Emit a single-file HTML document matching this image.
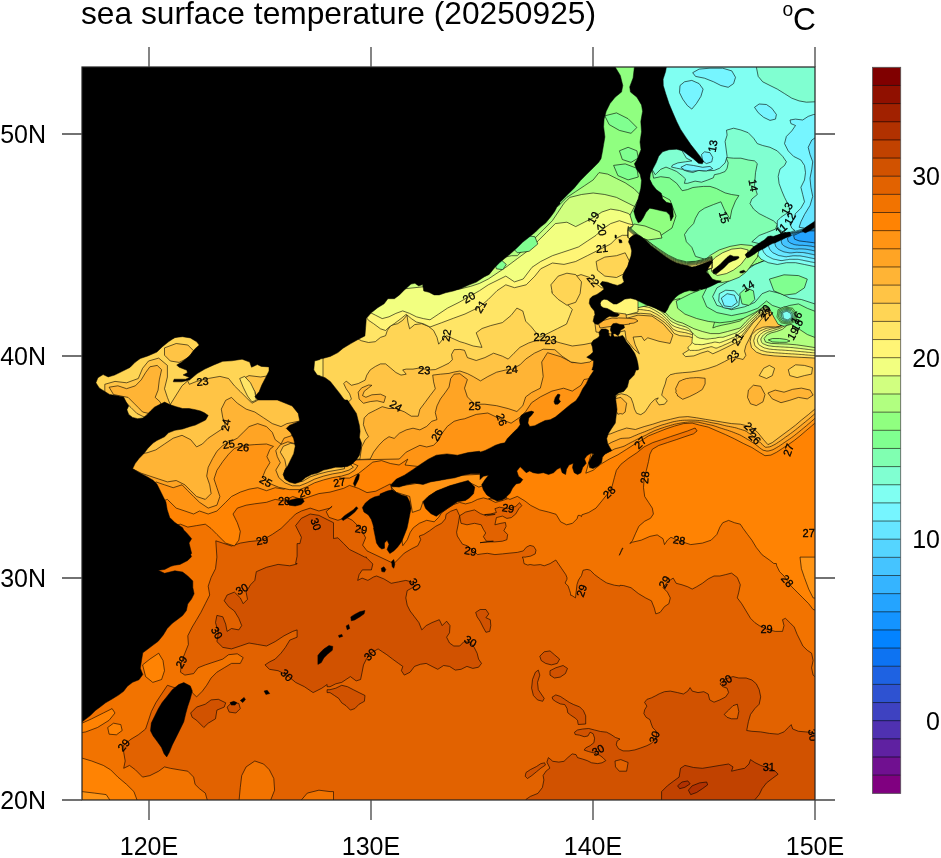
<!DOCTYPE html>
<html lang="en">
<head>
<meta charset="utf-8">
<title>sea surface temperature (20250925)</title>
<style>
html,body{margin:0;padding:0;background:#fff;}
body{width:941px;height:858px;overflow:hidden;}
svg{display:block;}
text{font-family:"Liberation Sans","Helvetica","Arial",sans-serif;fill:#000;}
.c{stroke:#000;stroke-width:0.6;stroke-linejoin:round;fill-rule:evenodd;}
.l{fill:#000;stroke:#000;stroke-width:0.5;stroke-linejoin:round;fill-rule:evenodd;}
.n{font-size:11px;text-anchor:middle;stroke:#000;stroke-width:0.3px;}
.t{stroke:#444;stroke-width:1.3;fill:none;}
</style>
</head>
<body>
<svg width="941" height="858" viewBox="0 0 941 858">
<defs><clipPath id="f"><rect x="82" y="67" width="733" height="733"/></clipPath></defs>
<rect width="941" height="858" fill="#fff"/>
<text x="81" y="24" font-size="31.7" textLength="515" lengthAdjust="spacingAndGlyphs">sea surface temperature (20250925)</text>
<text x="782.5" y="15.8" font-size="19.3">o</text>
<text x="793" y="30.4" font-size="31.7">C</text>
<g clip-path="url(#f)">
<rect x="82" y="67" width="733" height="733" fill="#e26200"/>
<path class="c" fill="#d15200" d="M297.1 543.6L297.1 556.2L295.6 563.5L297.1 563.5L297.1 564L289.8 565.8L278.1 564.4L266.5 567.3L256.3 571.7L254.8 580.4L250.5 584.8L246.1 592.1L247.5 599.3L243.2 603.7L240.3 597.9L234.4 592.1L227.1 595L224.2 600.8L228.6 606.6L234.4 611L238.8 618.3L241.7 625.6L238.8 629.9L231.5 628.5L227.1 631.4L225.7 624.1L222.8 616.8L216.9 615.4L215.5 622.6L218.4 632.8L216.9 641.6L222.8 647.4L231.5 648.9L240.3 646L249 643L257.7 644.5L266.5 646L275.2 641.6L284 635.8L292.7 631.4L297.1 629.9L297.1 637.2L289.8 640.1L285.4 647.4L281 653.2L275.2 659.1L269.4 662L265 664.9L269.4 669.3L278.1 670.7L286.9 675.1L295.6 682.4L304.4 686.7L313.1 692.6L321.8 688.2L327.1 684.5L327.1 686.7L330 686.7L335.8 683.8L341.7 682.4L346 679.5L350.4 676.6L356.2 680.9L360.6 679.5L362.1 672.2L363.5 664.9L366.4 659.1L370.8 653.2L378.1 648.9L382.4 651.8L386.8 654.7L392.6 659.1L398.5 663.4L402.8 666.4L401.4 670.7L404.3 675.1L410.1 672.2L414.5 666.4L420.3 664.3L426.2 663.4L432 666.4L437.8 669.3L443.6 665.5L449.5 666.4L455.3 670.1L461.1 669.3L466.9 666.4L472.8 668.4L478.6 667.2L481.5 663.4L478.6 659.1L477.1 653.2L474.2 647.4L469.9 642.2L464 641.6L459.7 646L453.8 646L449.5 643L446.6 637.2L449.5 632.8L450 625.6L446.6 621.2L442.2 625.6L439.3 619.7L432 622.6L426.2 625.6L421.8 629.9L418.9 622.6L414.5 616.8L410.1 611L407.2 605.2L405.8 597.9L407.2 590.6L415.1 586.2L411.6 581.9L405.8 580.4L398.5 581.9L391.2 583.3L383.9 578.9L376.6 576L373.7 576.9L367.9 580.4L362.1 578.1L357.7 580.4L359.1 574.6L362.3 569.9L371.4 569.9L372.8 564L367 558.2L366.4 557.9L366.4 557.1L364.8 557.1L358.3 553.8L349.5 549.5L343.7 543.6L337.9 537.8L333.5 538.5L333.5 522.7L327.7 519.8L318.9 515.4L310.2 514L301.4 518.3L295.6 525.6L300 534.4L300 534.9L300.3 534.9L301.4 537.3L299.9 543.6ZM341.7 702.8L346 705.7L350.4 710.1L354.8 708.6L359.1 704.2L364.4 701.3L365 695.5L359.1 692.6L353.3 689.7L347.5 686.7L341.7 685.3L335.8 688.2L330 689.7L327.1 689.7L327.1 692.6L330 692.6L334.4 695.5L338.7 698.4ZM231.5 702.8L227.1 707.1L229.2 712.1L235.9 713L240.3 708.6L238.8 703.4ZM215.5 718.8L216.9 710.1L224.2 707.1L225.7 702.8L218.4 699.3L211.1 699.9L205.3 704.2L196.6 707.1L190.7 713L192.2 717.3L196.6 720.3L203.8 727.5L208.2 723.2ZM489.7 631.4L490.8 625.6L490.3 619.7L485.9 617.7L488.8 613.9L485.9 609.5L480.1 609.5L475.7 612.4L477.1 616.8L480.1 621.2L483 627L485.9 632.3ZM559.6 659.1L554.4 654.7L550 650.9L544.2 651.8L539.8 656.2L541.2 660.5L545.6 663.4L551.4 664.9L557.3 663.4ZM567.5 668.4L563.1 665.5L555.8 667.8L550 670.7L550 675.1L554.4 678L560.2 677.1L565.4 673.6ZM544.2 698.4L541.2 694L538.3 689.7L537.5 682.4L539.8 675.1L538.3 670.1L535.4 672.2L532.5 679.5L531.6 688.2L533.4 695.5L537.5 699.9L542.7 701.3ZM567 708.4L567.8 712.8L570.7 715.1L575.2 718.1L577.5 720.3L578.2 724.5L585.7 724L585.7 715.8L583.4 710.6L579.7 706.9L573.7 704.6L569.3 702.4L564.8 699.4L560.3 696.4L555.8 694.9L552.1 697.2L552.8 699.4L555.8 701.6L560.3 703.9L564.8 704.6ZM805.8 731.9L798.5 731.3L792.7 729L791.2 724.6L788.3 727.5L784 731.9L778.1 734.2L769.4 733.4L760.7 731.9L751.9 731.3L746.7 730.5L748.4 721.7L750.5 714.4L754.8 708.6L759.2 704.2L760.7 696.9L759.2 689.7L756.3 683.8L751.9 680L746.1 678L738.8 678L733 676.6L725.7 678.9L719.9 683.8L722.8 686.7L727.1 688.2L728.6 692.6L725.7 696.9L719.9 699.9L714 702.2L709.7 699.9L708.2 694L703.8 691.7L698 692.6L692.2 691.1L690.1 687.6L687.8 691.1L683.4 694L677.6 692.6L670.3 691.1L664.5 691.7L660.2 693.4L660 693.4L659.5 693.7L658.7 694L658.7 694.1L655.8 695.7L651.3 697.9L646.9 699.4L644.6 702.4L646.9 706.1L644.6 709.9L643.9 713.6L646.1 717.3L649.9 719.6L651.3 724L652.8 727.8L655.8 730.7L656.6 735.2L655.1 739.7L651.3 743.4L646.9 745.7L640.9 747.9L634.9 749.9L629 750.9L623 750.9L618.5 748.7L616.3 744.9L617 741.2L620 739L615.5 737.5L611 734.5L606.6 732.2L600.6 731.5L594.6 730L588.7 728.5L582.7 729L577.5 730L574.5 732.2L575.2 734.5L579.7 735.2L584.2 736.7L587.9 736L590.1 732.2L593.1 733.7L594.6 738.2L593.9 742.7L590.1 745.7L585.7 747.9L584.2 750.1L588.7 751.6L594.6 753.1L599.9 755.4L602.8 757.6L605.8 760.6L602.1 762.8L597.6 763.6L591.6 762.8L587.2 760.6L582.7 759.1L577.5 757.6L576 754.6L572.2 753.9L567.8 757.6L564 761.3L558.8 762.1L552.8 761.3L548.4 757.6L546.9 762.1L549.9 768.1L546.1 771L543.1 775.5L543.9 780L542.4 787.5L537.9 793.4L530.4 796.4L526 799.4L526 803.9L658.7 803.9L658.7 807.7L824.8 807.7L824.8 733.4L814.8 733.4L811.6 732.5ZM540.9 768.1L545.4 765.1L544.6 762.8L540.9 763.6L536.4 766.6L530.4 769.6L526 772.5L525.2 776.3L527.5 778.5L531.9 775.5L536.4 771.8Z"/>
<path class="c" fill="#c14200" d="M754.8 807.7L754.8 799.8L759.2 794.6L762.1 788.7L766.5 782.9L772.3 778.5L778.1 774.2L775.2 771.2L768.8 768.3L760.7 765.4L754.8 762.5L750.5 759.6L749 764L744.6 768.3L737.3 769.8L731.5 771.2L733 766.9L728.6 764L719.9 765.4L711.1 766.9L702.4 768.3L693.6 767.5L684.9 765.4L680.5 768.3L679.1 777.1L673.2 781.4L667.4 785.8L661.6 791.6L661.6 807.7Z"/>
<path class="c" fill="#b13100" d="M684.9 787.3L690.1 783.8L687.8 780.9L682 782L677.6 785.8L679.7 788.7ZM696.6 792.5L702.4 788.7L707.6 784.9L706.7 782L699.5 782.9L692.2 785.8L688.4 790.2L690.7 794.6Z"/>
<path class="c" fill="#f27300" d="M231.5 546L240.3 543.1L249 541.6L262.1 540.2L272.3 534.4L281 528.5L289.8 519.8L295.6 514L301.4 511L310.2 508.1L318.9 511L330 508.1L332.1 506.3L326.2 511.6L329.1 517.4L337.9 520.3L346.6 517.4L352.4 520.3L361.2 529.1L365.6 537.8L362.6 545.1L367 550.9L393.9 563.6L398.4 559.1L404.3 553.1L411.8 548.7L417.8 545.7L420.7 539.7L419.3 536L423.7 534.5L429.7 530.7L435.7 526.3L441.6 523.3L445.4 518.8L446.1 514.3L450.6 511.3L456.6 509.1L459.6 515.8L458.1 524.8L456.6 532.2L457.3 536L459.6 539.7L462.5 544.2L467 545.7L473 550.1L477.5 554.6L481.9 553.9L487.3 553.3L494.9 554.6L502.4 553.9L509.9 553.1L517.3 552.4L523.3 550.9L526.3 547.2L530 545.4L533.7 546.4L536 550.1L535.2 553.9L530.7 556.1L526.3 556.9L526 557.1L522.3 557.1L523.3 559.1L523.3 559.1L524 563.6L527.8 565.1L530.1 564.5L534 565.2L540.5 564.6L544.2 565.8L550.1 563.6L555.8 560L561.4 568.2L565.9 574.8L567 577.8L566.9 579.4L565.1 583L568.1 586L569.6 590.4L570.5 593.3L570.7 595.3L571.9 595.5L575.5 597.9L577 584.5L578.5 580L581.5 575.5L583 570.3L586.9 569.4L589.2 569.9L590.4 570.4L594.6 574.6L600.4 578.9L606.2 582.7L606.7 582.8L606.9 583L614.3 585.2L620 586L620.1 585.3L623.7 585.6L631 587.7L638.3 593.5L645.6 597.9L651.4 600.8L654.3 608.1L655.8 613.9L660.1 612.4L664.5 606.6L668.9 603.7L670.3 597.9L667.4 592.1L663 587.7L667.4 581.9L673.2 578.1L676.2 583.3L682 584.8L687.8 586.8L692.2 589.1L696.6 586.8L702.4 583.3L708.2 578.9L714 576L719.9 576L725.7 574.6L731.5 573.1L737.3 577.5L740.3 584.8L738.8 592.1L737.3 597.9L741.7 603.7L746.1 611L750.5 618.3L754.8 622.6L759.2 625.6L766.5 629.1L775.2 631.4L782.5 631.4L784 625.6L782.5 619.7L785.4 618.3L789.8 622.6L794.2 627L797.1 634.3L800 640.1L802.9 646L807.3 650.3L811.6 653.2L813.1 660.5L811.6 667.8L813.1 675.1L814.8 676.6L824.8 676.6L824.8 563.5L833.5 563.5L833.5 307.1L628.6 307.1L650 55L60 55L60 540L77.1 541.9L77.1 803.3L208.2 803.3L205.3 793.1L199.5 788.7L195.1 784.4L193.6 777.1L187.8 771.2L179.1 769.8L170.3 768.3L164.5 766.9L158.7 771.2L149.9 775.6L142.6 777.1L135.4 769.8L129.5 765.4L123.7 768.3L125.2 761L123.7 752.3L123.7 745L131 739.2L138.3 734.8L145.6 729L148.5 720.3L151.4 711.5L155.8 702.8L161.6 694L167.4 685.3L176.2 688.2L187.8 685.3L192.2 692.6L196.6 696.9L202.4 691.1L206.7 685.3L211.1 678L216.9 672.2L224.2 667.8L231.5 663.4L240.3 663.4L243.2 657.6L237.3 653.8L228.6 654.7L222.8 659.1L214 662L205.3 664.9L198 667.8L193.6 673.6L184.9 675.1L180.5 672.2L181.4 662L184.9 653.2L188.4 644.5L187.8 635.8L192.2 627L196.6 619.7L200.9 612.4L205.3 603.7L209.7 595L208.2 586.2L211.1 577.5L215.5 568.7L216.9 557.1L215.8 540.8L222.8 543.1ZM269.4 769.8L263.6 764L254.8 761L246.1 766.9L241.7 775.6L240.3 787.3L238.8 803.3L269.4 803.3L274.6 790.2L273.8 778.5ZM318.9 790.2L307.3 793.1L298.5 803.3L333.5 803.3L333.5 791.6L330 791.6Z"/>
<path class="c" fill="#ff8303" d="M211.1 528.5L216.9 534.4L225.7 543.1L234.4 546L238.8 540.2L240.3 531.4L237.3 522.7L233 514L237.3 508.1L246.1 505.2L254.8 503.8L266.5 502.3L275.2 499.4L284 500.9L292.7 496.5L301.4 499.4L310.2 496.5L318.9 493.6L330 492.1L330 492.1L343.7 488.3L349.5 485.4L358.3 488.3L367 492.6L375.8 491.2L384.5 486.8L390.3 483.9L396.2 505.8L402.8 545.7L407.3 539.7L410.3 532.2L413.3 527.8L419.3 523.3L426.7 520.3L434.2 521.8L438.7 517.3L441.6 512.8L447.6 508.4L453.6 504.6L459.6 502.4L465.5 503.9L471.5 502.4L477.5 499.4L483.4 497.9L487.7 499L491.9 497.9L497.9 494.9L503.9 496.4L507.2 498.1L488.7 499.2L489.4 499.4L495.4 502.4L501.3 500.9L508.1 498.6L509.9 499.4L517.3 496.4L524.8 500.9L530.7 505.4L539.7 509.9L548.7 512.1L556.1 514.3L560.6 521.8L566.6 524.8L572.5 523.3L577 518.8L578.1 515.4L580 515.4L581.5 516.6L581.9 514.8L588.7 512.5L596 508.1L601.9 500.9L607.7 493.6L612.1 486.3L614.4 477.5L616.4 470.3L620.8 464.4L628.1 458.6L636.8 452.8L644.1 446.9L652.8 442.6L661.6 439.7L670.3 436.7L679.1 433.8L687.8 430.9L695.1 428L697.1 430.9L693.6 433.8L684.9 436.7L676.2 439.7L667.4 442.6L658.7 445.5L652.3 449.3L649.9 454.2L648.5 461.5L646.4 470.3L644.1 479L643.5 487.7L644.7 496.5L648.5 502.3L652.3 508.1L653.4 514L650.5 518.3L644.7 521.2L638.9 526.2L635.4 533.8L632.4 540.8L629.9 543.5L632.4 542.2L641.2 540.2L649.9 536.4L657.2 534.9L663 538.7L664.5 544.6L667.4 540.2L670.9 537.3L679.1 540.8L690.7 544.6L702.4 543.1L711.1 540.2L716.9 534.4L719.9 527.1L722.8 522.7L728.6 520.4L734.4 522.7L740.3 524.2L743.2 528.5L747.5 534.4L751.9 540.2L756.3 547.5L762.1 554.8L769.4 560L773.8 563.5L776.3 563.5L776.7 565.8L779.6 571.7L784 576L791.2 586.2L797.1 592.1L802.9 597.9L808.7 603.7L813.1 609.5L824.8 612.4L824.8 563.5L833.5 563.5L833.5 307.1L628.6 307.1L650 55L60 55L60 520L150 530L180.5 524.2L187.8 527.1L196.6 525.6L205.3 524.2ZM622.2 548.3L619.3 555.3L623 548ZM164.5 670.7L163 660.5L158.7 653.2L149.9 659.1L142.6 664.9L145.6 676.6L152.8 682.4L161.6 679.5ZM109.1 720.3L115 713L112.1 708.6L103.3 713L91.7 718.8L82 723.2L77.1 723.2L77.1 733.4L85.8 731.9L97.5 727.5ZM120.8 724.6L113.5 723.2L107.7 727.5L109.1 734.2L116.4 734.8L122.2 730.5ZM126.6 784.4L117.9 777.1L110.6 769.8L103.3 765.4L91.7 761L82 758.1L77.1 758.1L77.1 803.3L138.3 803.3L133.9 791.6Z"/>
<path class="c" fill="#ff9414" d="M349.5 478.1L358.3 473.7L365.6 467.9L372.8 462.1L381.6 460.6L390.3 463.5L399.1 465L407.8 459.1L405 465L450 470L500 460L530 450L560 440L590 400L609.1 356.5L609.1 368.3L597.5 412L594.6 441.1L585.8 473.2L593.1 470.3L600.4 464.4L609.1 459.2L617.9 454.8L626.6 449.3L633.9 444.6L640.3 441.1L648.5 435.9L657.2 432.4L666 428.9L674.7 426L683.4 423.6L692.2 423.1L699.5 425.1L708.2 427.1L716.9 430.9L725.7 434.7L734.4 438.8L743.2 443.4L751.9 447.5L759.2 452.2L765 455.7L770.9 455.1L776.7 452.2L782.5 448.4L788.3 444.6L794.2 440.5L800 435.9L805.8 430.9L811.6 426L814.8 423.1L821.8 417.8L833.5 397.4L833.5 307.1L609.1 307.1L609.1 347.1L600 338L597 322L606 300L615 292L626 284L630 272L636 240L641 222L650 150L650 55L300 55L300 300L301 304.2L74.2 304.2L74.2 514L123.7 514L167.4 499.4L176.2 508.1L184.9 511L193.6 514L199.5 511L208.2 514L216.9 511L225.7 502.3L231.5 496.5L240.3 492.1L249 489.2L257.7 487.7L266.5 490.7L275.2 487.7L284 489.2L289.8 484.8L301.4 461.5L313.1 397.4L313.1 352.4L320 380L330 440L329.1 459.1L332.1 470.8L340.8 478.1ZM412.4 512.4L420.3 509.7L423 501.7L428.3 496.4L436.3 491.6L449.6 486.3L468.2 481.8L478.8 487.1L492.1 483.1L489.4 473.8L462.8 475.2L436.3 480.5L409.7 484.5L391.1 487.1L396.4 492.4L409.7 496.4ZM813.1 597.9L824.8 599.3L824.8 557.1L800 557.1L801.4 568.7L804.4 577.5L808.7 589.1ZM94.6 793.1L82 791.6L77.1 791.6L77.1 803.3L112.1 803.3L106.2 794.6Z"/>
<path class="c" fill="#ffa424" d="M399.3 459L406.2 452.1L413 448.7L419.9 445.3L426.7 447L433.6 445.3L438.7 440.1L442.1 433.3L447.3 426.4L454.1 421.3L459.9 419.6L464.5 418.8L476.2 414.4L487.8 413L501.8 419.7L511.1 423.2L519.9 417.3L525.7 411.5L531.5 402.8L540.3 396.9L551.9 391.1L563.6 388.2L572.3 391.1L581 385.3L584 379.5L601.4 376.6L609.1 357.2L609.1 368.3L597.5 412L594.6 441.1L591.7 460.5L593.7 459.9L595.8 459.2L597.9 458.5L599.8 457.5L601.6 456.3L603.4 455.1L605.2 453.9L607.1 452.8L609 451.8L611 450.9L612.9 449.9L614.8 448.9L616.9 448.3L618.9 447.8L620.9 447.2L622.9 446.6L624.9 445.8L626.8 444.7L628.7 443.7L630.6 442.7L632.6 441.7L634.5 440.7L636.4 439.7L638.3 438.7L640.3 437.8L642.3 436.8L644.2 435.9L646.2 435L648.1 433.9L650 432.9L652 432L653.9 431L655.9 430.2L658 429.5L660 428.7L662.1 428L664.2 427.3L666.2 426.6L668.3 426L670.4 425.4L672.5 424.8L674.6 424.2L676.7 423.8L678.8 423.4L680.9 423L683 422.7L685.2 422.4L687.3 422.2L689.4 421.9L691.6 421.9L693.8 421.9L695.9 422L698.1 422.1L700.2 422.6L702.4 423.1L704.5 423.6L706.6 424.1L708.8 424.6L710.9 425L713 425.5L715.1 426.2L717.2 426.9L719.2 427.6L721.3 428.3L723.3 428.9L725.4 429.6L727.5 430.2L729.5 430.9L731.6 431.6L733.6 432.4L735.6 433.2L737.7 434L739.7 434.8L741.6 435.8L743.5 436.9L745.3 438L747.2 439.2L749.1 440.2L750.9 441.4L752.7 442.6L754.5 443.7L756.2 445L757.9 446.3L759.6 447.7L761.3 449L763.1 450.2L765 450.6L766.9 451.1L768.9 450.9L771 450.3L773 449.7L774.9 448.6L776.8 447.5L778.7 446.4L780.5 445.2L782.3 444L784.1 442.7L785.9 441.5L787.7 440.3L789.5 439.1L791.3 437.8L793.1 436.5L794.8 435.2L796.5 433.8L798.2 432.5L799.9 431.1L801.6 429.7L803.3 428.3L805 426.9L806.7 425.5L808.3 424.1L810 422.7L811.7 421.2L813.3 419.8L814.9 418.3L816.7 417L818.4 415.6L820.1 414.3L821.8 413L833.5 397.4L833.5 307.1L609.1 307.1L609.1 347.1L600 338L597 322L606 300L615 292L626 284L630 272L636 240L641 222L650 150L650 55L300 55L300 300L301 304.2L74.2 304.2L74.2 514L123.7 514L155.8 481.9L164.5 484.8L173.2 487.7L182 484.8L187.8 490.7L193.6 496.5L199.5 502.3L208.2 508.1L216.9 505.2L219.9 496.5L216.9 487.7L214 479L216.9 470.3L222.8 461.5L228.6 454.2L234.4 448.4L243.2 445.5L254.8 444.6L266.5 444L273.5 446.4L269.9 449.3L266.9 456.7L269.9 462.7L265.4 470.1L262.4 477.6L269.9 483.6L278.8 487.3L289.3 489.6L299.7 489.6L307.2 486.6L314.6 482.8L323.6 479.9L332.5 477.6L341.5 476.1L349 473.9L354.9 470.1L357.9 465.7L344.5 459.7L314.6 459.7L303.8 448.8L313.1 397.4L313.1 352.4L320 380L340 430L350 460Z"/>
<path class="c" fill="#ffb435" d="M370.2 459L373.6 452.1L378.8 445.3L383.9 440.1L389 436.7L394.2 438.4L399.3 433.3L406.2 429.9L413 428.2L419.9 429.9L426.7 426.4L431.8 421.3L437 419.6L435.3 412.7L437 405.9L440.4 399L445.5 392.2L449 387.1L450.7 378.5L454.1 374.2L459.9 373.7L467.4 379.5L464.5 388.2L467.4 396.9L474.7 404.2L484.9 404.2L496.6 405.7L508.2 408.6L516.9 411.5L522.8 405.7L525.7 396.9L531.5 392.6L540.3 388.2L543.2 376.6L541.7 362L547.5 352.7L560.7 356.7L572.3 362.6L584 362.6L592.7 356.7L604.4 356.2L609.1 352.3L609.1 368.3L597.5 412L594.6 441.1L597.5 447.9L599.5 447.4L601.6 446.8L603.6 446.3L605.6 445.5L607.4 444.6L609.3 443.6L611.1 442.6L613 441.7L615 440.9L616.9 440.1L618.9 439.2L620.8 438.5L622.8 438.3L624.9 438.2L626.9 438.1L628.9 438L630.9 437.4L632.8 436.5L634.7 435.7L636.7 434.9L638.6 434L640.6 433.3L642.5 432.5L644.5 431.8L646.4 431L648.4 430.2L650.4 429.4L652.3 428.7L654.2 427.8L656.2 427L658.2 426.3L660.1 425.6L662.1 424.9L664.2 424.4L666.2 423.8L668.2 423.2L670.3 422.6L672.3 422L674.3 421.5L676.4 421.2L678.5 420.8L680.5 420.5L682.6 420.3L684.7 420.2L686.8 420.2L688.9 420.1L690.9 420.1L693 420.2L695.1 420.2L697.2 420.4L699.3 420.6L701.4 420.7L703.5 421L705.6 421.4L707.6 421.8L709.7 422.3L711.8 422.7L713.9 423.1L716 423.5L718 423.8L720.1 424.4L722.1 424.9L724.2 425.4L726.2 425.9L728.3 426.3L730.3 426.7L732.4 427.1L734.4 427.5L736.5 428L738.5 428.7L740.5 429.3L742.5 429.9L744.5 430.5L746.4 431.4L748.1 432.7L749.9 433.9L751.6 435.1L753.3 436.3L754.9 437.6L756.4 439L758 440.4L759.5 441.8L761 443.3L762.5 444.7L764.1 446.2L765.7 447.3L767.6 447.1L769.4 446.9L771.3 446.2L773.1 445.3L775 444.4L776.7 443.3L778.5 442.1L780.3 440.9L782 439.7L783.7 438.5L785.4 437.2L787.2 436L788.9 434.8L790.6 433.5L792.3 432.3L794 431L795.7 429.7L797.3 428.4L799 427L800.6 425.7L802.3 424.3L803.9 423L805.5 421.7L807.2 420.3L808.8 419L810.4 417.6L812 416.2L813.6 414.8L815.2 413.4L816.9 412.1L818.5 410.8L820.2 409.4L821.8 408.1L833.5 397.4L833.5 307.1L609.1 307.1L609.1 347.1L600 338L597 322L606 300L615 292L626 284L630 272L636 240L641 222L650 150L650 55L300 55L300 300L301 304.2L74.2 304.2L74.2 514L123.7 484.8L132.4 468.8L141.2 473.2L149.9 476.1L158.7 479L167.4 481.9L176.2 480.5L184.9 484.8L190.7 490.7L196.6 496.5L205.3 499.4L211.1 493.6L209.7 484.8L206.7 476.1L208.2 467.3L212.6 458.6L216.9 451.3L222.8 445.5L228.6 442.6L237.3 438.2L243.2 432.4L249 426.6L257.7 423.6L266.5 426.6L272.3 432.4L275.2 439.7L281 444L284 438.2L301.4 432.4L313.1 397.4L313.1 352.4L320 380L340 430L350 460ZM275.8 450.7L277.3 456.7L280.3 462.7L275.8 470.1L278.8 477.6L284.8 482.8L292.2 485.8L299.7 485.8L307.2 482.8L314.6 479.1L323.6 476.1L332.5 473.9L341.5 472.4L349 470.1L353.4 467.2L344.5 459.7L314.6 459.7L299.7 444.8L287.8 441.8L280.3 444.8Z"/>
<path class="c" fill="#ffc445" d="M359.9 459L361.6 447L365.1 440.1L368.5 436.7L365.9 431.6L363.4 424.7L364.2 417.9L368.5 413.6L375.3 410.2L382.2 406.7L389 408.5L395.9 408.5L404.5 411.9L411.3 416.2L418.2 416.2L419.9 409.3L425 402.5L430.1 395.6L435.3 388.8L433.6 381.9L432.7 375.1L440.4 374.2L449 373.4L454.1 372L459.9 371L467.4 373.6L473.2 376.6L480.5 380.9L487.8 376.6L496.6 372.2L505.3 370.1L511.7 369.3L519.9 364.9L525.7 359.1L534.4 353.2L543.2 349.2L554.8 349.7L562.1 356.2L570.9 362L581 363.4L589.8 362L595.6 357.6L604.4 356.2L609.1 352.3L609.1 368.3L597.5 412L594.6 441.1L603.3 435.3L610.6 433.8L617.9 430.9L626.6 428L635.4 429.5L644.1 426.6L652.8 424.2L661.6 421.3L670.3 419.3L679.1 417.2L687.8 416.6L696.6 417.8L705.3 419.3L714 420.7L722.8 422.2L731.5 423.6L740.3 424.2L750.5 426.6L757.7 432.4L763.6 439.7L767.9 444.6L772.3 442.6L778.1 438.2L784 433.8L789.8 429.5L795.6 425.1L801.4 420.1L808.7 414.3L814.8 409.1L821.8 403.2L833.5 397.4L833.5 307.1L609.1 307.1L609.1 347.1L600 338L597 322L606 300L615 292L626 284L630 272L636 240L641 222L650 150L650 55L300 55L300 300L301 304.2L74.2 304.2L74.2 455.7L123.7 455.7L147 452.8L155.8 449.9L164.5 444L173.2 438.2L182 435.3L190.7 439.7L196.6 446.9L202.4 444L208.2 438.2L216.9 432.4L225.7 426.6L222.8 417.8L221.3 409.1L225.7 400.3L231.5 397.4L237.3 403.2L246.1 409.1L254.8 412L263.6 417.8L272.3 423.6L281 426.6L286.9 423.6L301.4 420.7L313.1 397.4L313.1 352.4L320 380L340 430L350 460ZM280.3 452.2L284.8 459.7L286.3 467.2L283.3 474.6L286.3 479.9L293.7 482.8L302.7 481.3L310.1 476.9L319.1 473.9L328.1 471.6L337 470.1L344.5 468.7L344.5 459.7L314.6 459.7L299.7 444.8L290.7 443.3L283.3 446.3Z"/>
<path class="c" fill="#ffd555" d="M349.7 393.9L346.2 388.8L343.7 383.6L346.2 381.1L351.4 385.3L358.2 383.6L365.1 380.2L366.8 375.1L370.2 369.9L375.3 366.5L380.5 363.9L385.6 363.9L390.8 368.2L395.9 372.5L401 375.1L406.2 374.2L402.7 369.9L406.2 369.1L413 369.1L418.2 368.2L425 369.1L430.1 369.9L435.3 369.6L442.1 366.5L449 363.1L452.4 359.7L451.5 354.5L454.1 349.7L459.9 349.4L464.5 350.3L467.4 357.6L476.2 360.5L484.9 357.6L493.6 353.2L502.4 356.2L508.2 359.1L514 353.2L519.9 347.4L528.6 343L537.3 340.1L550.5 340.1L560.7 343L572.3 346L584 344.5L591.2 343L601.4 341.6L612 350L600 338L597 322L606 300L615 292L626 284L630 272L636 240L641 222L650 150L650 55L300 55L300 300L320 380L347.9 402.5L351.4 399ZM626.8 395.1L631 397.9L633.1 403.5L634.5 409.1L636.6 413.3L640.8 414.7L645 411.9L647.8 407.7L650.6 403.5L654.8 399.3L658.3 397.9L656.2 400.7L659 404.9L664.5 404.2L667.3 400.7L665.2 398.6L661.7 395.1L663.1 389.5L665.2 383.9L666.6 378.3L670.1 374.8L675.7 373.4L682.7 372.7L691.1 372L699.5 370.6L707.9 368.5L716.3 365.7L724.7 361.5L732.4 357.3L740.1 358.7L743.1 359.5L745.9 355.3L744.5 351.1L745.9 345.5L748.7 339.9L751.5 334.3L754.3 328.7L758.5 323.1L762.7 317.6L766.9 313.4L771.1 312L775.3 314.8L778.1 319L782.3 323.1L779.5 327.3L773.9 328.7L768.3 328L762.7 328.7L757.1 331.5L752.9 335.7L751.5 341.3L752.9 346.9L757.1 351.1L762.7 353.9L773.9 355.3L787.9 356L801.9 356.7L815 357.4L829.9 358.1L830 400L830 228L800 236L770 250L740 262L715 264L690 275L650 288L632 302L618 312L614.2 313.3L618.4 335.7L621.2 355.9L612.8 383.9L615.6 397.9L617 395.1L621.2 393.7ZM219.9 376.4L228.6 378.5L234.4 385.8L240.3 391.6L246.1 397.4L251.9 403.2L257.7 400.3L254.8 391.6L249 382.8L243.2 378.5L249 375.6L260.7 377L269.4 375.6L278.1 379.9L289.8 385.8L301.4 382.8L301.4 339.1L202.4 339.1L202.4 327.5L91.7 368.3L91.7 397.4L123.7 426.6L167.4 409.1L182 385.8L187.7 380.9L189.3 384.3L196.6 381.4L208.2 378.5Z"/>
<path class="c" fill="#ffe566" d="M368.5 342.5L375.3 341.7L380.5 337.4L385.6 335.7L387.3 330.5L390.8 325.4L397.6 323.7L402.7 320.3L407 315.1L407.9 322L409.6 328.8L414.7 324.6L421.6 323.7L428.4 326.3L433.6 330.5L437 337.4L438.7 344.2L442.1 340L446.4 335.7L454.1 339.1L459.9 341.7L464.5 343L473.2 346L482 347.4L479.1 340.1L476.2 332.8L482 328.5L490.7 325.6L502.4 322.6L511.1 315.4L516.9 308.1L522.8 311L525.7 321.2L531.5 327L537.3 334.3L539.7 337.2L549 332.8L557.7 328.5L566.5 324.1L569.4 316.8L572.3 309.5L566.5 303.7L557.7 297.9L551.9 292.1L554.8 284.8L563.6 280.4L572.3 277.5L581 274.6L589.8 277.5L595.6 283.3L601.4 287.7L613.1 289.1L613 293.8L615 292L626 284L630 272L636 240L641 222L650 150L650 55L300 55L300 300L358.2 339.1L361.6 340.8ZM650.6 314L657.6 317.5L664.5 322.4L670.1 328L674.3 333.6L679.9 335.7L688.3 336.4L695.3 338.5L698.8 341.3L693.9 346.2L688.3 350.3L682.7 353.8L685.5 356.6L693.9 355.9L700.9 353.1L707.9 351L712.8 353.8L719.1 351L726.1 347.6L733.1 344.1L740.1 340.6L744.5 334.3L748.7 328.7L752.9 323.1L758.5 317.6L764.1 312L768.3 309.9L772.5 310.6L776.7 313.4L779.5 317.6L783 321.7L780.9 325.9L775.3 327.3L768.3 326.6L762.7 327.3L756.4 330.1L751.5 335L750.1 341.3L751.5 347.6L756.4 352.2L762.7 354.6L773.9 355.9L787.9 356.7L801.9 357.4L815 358.1L829.9 358.8L830 400L830 228L800 236L770 250L740 262L715 264L690 275L650 288L632 302L618 312L614.2 313.3L624 314L631 314L640.8 313.3ZM323 356L311 356L311 380L323 380Z"/>
<path class="c" fill="#fff576" d="M373.6 323.7L380.5 328.8L385.6 330.5L389 327.1L394.2 323.7L401 318.6L406.2 314.3L411.3 318.6L416.4 322L423.3 323.7L430 327L441.7 322.7L453.3 318.3L465 314L480.1 306.7L488.3 299.4L497 290.7L505.8 284.8L514.5 287.7L526.2 284.8L534.9 276.1L540.7 268.8L552.4 263L564 264.4L575.7 261.5L587.3 255.7L596.1 251.3L601.9 248.4L610.7 244L616.5 238.2L622.3 235.3L631 235.3L637.3 235.3L641 222L650 150L650 55L300 55L300 300L365.9 316.8L368.5 320.3ZM626.5 309.5L627.9 309.5L629.3 309.6L630.7 309.6L632.2 309.6L633.6 309.6L635 309.5L636.4 309.5L637.8 309.5L639.2 309.5L640.6 309.6L642 309.7L643.5 309.9L644.9 310.1L646.3 310.3L647.7 310.5L649.1 310.6L650.4 311L651.7 311.6L653 312.3L654.3 312.9L655.5 313.6L656.8 314.2L658 315L659.2 315.8L660.3 316.6L661.5 317.4L662.7 318.2L663.8 319.1L664.8 320.1L665.8 321.1L666.9 322.1L667.9 323.1L668.9 324.1L669.8 325.2L670.7 326.3L671.6 327.5L672.4 328.6L673.6 329.4L674.8 330L676.1 330.6L677.4 331.2L678.8 331.5L680.1 331.8L681.5 332L682.9 332.3L684.3 332.5L685.7 332.7L687.1 333.1L688.4 333.5L689.8 333.9L691.2 334.3L692.5 334.8L693.6 335.7L694.8 336.5L695.5 337.4L695 338.3L694.5 339.2L693.9 340.2L693.4 341.1L692.8 342L692.1 342.8L691.5 343.6L690.9 344.3L690.3 345.1L689.6 345.8L688.9 346.5L688.2 347.2L687.6 347.9L688 348.7L689.1 349.6L690.2 350.5L691.6 350.4L693 350.4L694.4 350.4L695.8 350.4L697.2 350.3L698.6 350.2L700 349.8L701.3 349.3L702.7 348.9L704 348.5L705.4 348.1L706.7 347.8L708.1 347.5L709.5 347.1L710.9 346.7L712.2 346.8L713.4 347.3L714.7 347.8L716 348.2L717.3 347.9L718.6 347.3L719.9 346.8L721.3 346.3L722.6 345.7L723.9 345.1L725.2 344.5L726.5 344L727.8 343.4L729.1 342.8L730.4 342.2L731.7 341.6L732.9 340.9L734.1 340.2L735.3 339.5L736.5 338.7L737.7 338L739 337.3L740.2 336.6L741.4 335.9L742.4 334.9L743.2 333.7L744.1 332.6L745 331.5L745.8 330.3L746.7 329.2L747.6 328.1L748.6 327.1L749.5 326L750.4 324.9L751.3 323.8L752.2 322.7L753.1 321.6L754 320.6L755 319.5L756 318.5L757.1 317.6L758.1 316.6L759.2 315.7L760.3 314.7L761.3 313.8L762.4 312.9L763.5 312.1L764.6 311.4L765.7 310.6L766.9 310.1L768.3 309.7L769.5 309.2L770.9 309.4L772.2 309.8L773.6 310.1L774.8 310.9L776 311.7L777.1 312.5L778 313.6L778.8 314.8L779.6 316L780.4 317.2L781.3 318.3L782.2 319.4L783 320.5L783.2 321.7L782.8 323L782.5 324.3L781.8 325.2L780.7 325.7L779.6 326.3L778.5 326.9L777.1 327.1L775.8 327.2L774.4 327.2L773.1 327.3L771.7 327.4L770.3 327.6L768.9 327.9L767.5 328.1L766.1 328.4L764.8 329L763.5 329.5L762.2 330.1L760.9 330.6L759.7 331.4L758.6 332.3L757.6 333.2L756.5 334.1L755.5 335.1L755 336.4L754.6 337.7L754.2 339L753.7 340.4L753.9 341.7L754.3 343.1L754.6 344.5L755.1 345.8L755.9 346.8L757 347.6L758.2 348.5L759.3 349.3L760.4 350.1L761.8 350.5L763.1 350.9L764.5 351.3L765.8 351.7L767.2 352L768.6 352.1L770.1 352.3L771.5 352.4L772.9 352.5L774.3 352.7L775.7 352.8L777.2 352.9L778.6 353L780 353.1L781.4 353.2L782.9 353.3L784.3 353.4L785.7 353.5L787.1 353.6L788.6 353.7L790 353.8L791.4 353.9L792.8 353.9L794.3 354L795.7 354.1L797.1 354.2L798.5 354.3L799.9 354.4L801.4 354.5L802.8 354.6L804.2 354.7L805.6 354.9L807.1 355L808.5 355.1L809.9 355.2L811.3 355.3L812.7 355.4L814.2 355.4L815.6 355.5L817 355.6L818.5 355.7L819.9 355.7L821.3 355.8L822.7 355.9L824.2 355.9L825.6 356L827 356.1L828.4 356.1L829.9 356.2L830 400L830 228L800 236L770 250L740 262L715 264L690 275L650 288L632 302L618.2 311.9L625 309.4Z"/>
<path class="c" fill="#f2ff80" d="M382.2 318.6L389 316.8L395.9 313.4L402.7 310.9L409.6 313.4L416.4 316.8L423.3 318.6L430 319.8L438.7 314L447.5 308.1L459.1 302.3L469.3 296.5L479.5 290.7L488.3 284.8L497 280.5L505.8 276.1L514.5 281.9L523.2 279L532 267.3L540.7 261.5L552.4 255.7L561.1 252.8L569.9 249.9L578.6 246.9L587.3 241.1L596.1 235.3L601.9 229.5L610.7 223.6L619.4 220.7L628.1 223.6L639.7 226.5L641 222L650 150L650 55L300 55L300 300L368.5 311.7L375.3 315.1ZM630.1 305.1L631.5 305.2L632.8 305.3L634.1 305.3L635.5 305.4L636.8 305.4L638.1 305.5L639.4 305.7L640.7 305.8L642.1 306.1L643.4 306.3L644.7 306.6L646 306.8L647.3 307.1L648.6 307.4L649.9 307.7L651.1 308.3L652.3 309L653.5 309.6L654.6 310.2L655.8 310.9L657 311.6L658.1 312.3L659.2 313L660.4 313.8L661.5 314.5L662.5 315.4L663.5 316.3L664.5 317.2L665.5 318.1L666.5 319L667.4 320L668.3 321L669.2 322L670 323L670.9 324.1L671.9 324.9L673 325.6L674.2 326.3L675.4 326.8L676.6 327.3L677.9 327.6L679.1 328L680.4 328.4L681.7 328.8L683 329L684.3 329.4L685.6 329.8L686.9 330.1L688.2 330.5L689.4 331L690.5 331.7L691.6 332.5L692.5 333.2L692.5 334L692.5 334.8L692.5 335.6L692.5 336.4L692.4 337.2L692.4 337.9L692.3 338.6L692.2 339.2L692.2 339.9L692.1 340.5L692.1 341.1L692 341.6L691.9 342.2L692.6 342.9L693.7 343.6L694.8 344.3L696.1 344.4L697.4 344.4L698.8 344.5L700.1 344.6L701.4 344.7L702.7 344.6L704 344.4L705.3 344.1L706.6 343.8L707.9 343.5L709.2 343.3L710.5 343L711.8 342.8L713.1 342.4L714.4 342.1L715.7 342.1L716.9 342.3L718.2 342.5L719.4 342.8L720.6 342.4L721.9 342L723.2 341.5L724.4 341L725.7 340.6L726.9 340.1L728.2 339.6L729.4 339.1L730.7 338.6L731.9 338.1L733.2 337.6L734.4 337.1L735.5 336.3L736.6 335.6L737.7 334.8L738.8 334L739.8 333.3L740.9 332.5L742 331.7L743.1 331L744 330L744.9 329L745.7 328L746.6 326.9L747.5 325.9L748.3 324.9L749.3 323.9L750.2 322.9L751.1 322L752 321L753 320.1L753.9 319.1L754.8 318.2L755.7 317.2L756.7 316.3L757.7 315.4L758.7 314.5L759.7 313.6L760.8 312.8L761.9 312L762.9 311.2L764 310.5L765.1 310.1L766.2 309.6L767.4 309.2L768.6 308.9L769.9 308.6L771.1 308.4L772.3 308.8L773.5 309.3L774.8 309.7L775.9 310.5L777 311.2L778 312.1L778.8 313.1L779.6 314.2L780.3 315.4L781.1 316.5L781.9 317.6L782.7 318.7L783.5 319.7L783.7 320.9L783.7 322.1L783.7 323.2L783.3 324.2L782.6 325L781.9 325.8L781.1 326.5L780 326.9L778.8 327.3L777.6 327.6L776.4 327.9L775.1 328.1L773.8 328.4L772.5 328.7L771.2 329L769.9 329.4L768.7 329.9L767.4 330.3L766.1 330.8L764.9 331.2L763.7 331.8L762.6 332.6L761.6 333.4L760.5 334.2L759.5 335L758.9 336.1L758.3 337.3L757.8 338.5L757.3 339.7L757.4 340.9L757.8 342.2L758.2 343.5L758.8 344.6L759.7 345.3L760.9 346L762 346.7L763.1 347.3L764.3 347.9L765.6 348.2L766.8 348.5L768.1 348.8L769.4 349.1L770.8 349.2L772.1 349.4L773.5 349.5L774.8 349.6L776.1 349.7L777.5 349.8L778.8 349.9L780.2 350L781.5 350L782.9 350.1L784.2 350.2L785.5 350.3L786.9 350.4L788.2 350.5L789.6 350.6L790.9 350.7L792.3 350.8L793.6 350.9L794.9 351L796.3 351.2L797.6 351.3L799 351.4L800.3 351.5L801.7 351.7L803 351.8L804.3 351.9L805.7 352L807 352.2L808.3 352.3L809.7 352.4L811 352.6L812.4 352.7L813.7 352.8L815.1 352.9L816.4 352.9L817.7 353L819.1 353.1L820.4 353.1L821.8 353.2L823.1 353.2L824.5 353.3L825.8 353.4L827.2 353.4L828.5 353.5L829.9 353.6L830 400L830 228L800 236L770 250L740 262L715 264L690 275L650 288L632 302L627.8 305L628.8 305.1Z"/>
<path class="c" fill="#d1ff80" d="M459.1 289.2L470.8 286.3L479.5 283.4L488.3 279L497 273.2L505.8 267.3L517.4 258.6L529.1 249.9L537.8 241.1L546.6 232.4L555.3 223.6L566.9 222.2L575.7 226.6L584.4 222.2L593.2 217.8L601.9 212L610.7 209.1L619.4 210.5L628.1 213.4L639.8 222.2L636 240L641 222L650 150L650 55L300 55L300 300L441.7 284.8L447.5 290.7ZM634.7 301.1L635.9 301.2L637.2 301.3L638.4 301.5L639.6 301.8L640.8 302.1L642.1 302.4L643.3 302.7L644.5 303.1L645.7 303.4L646.9 303.8L648.1 304.1L649.3 304.5L650.4 305L651.5 305.7L652.7 306.3L653.8 306.9L654.9 307.5L656 308.1L657 308.8L658.1 309.5L659.2 310.1L660.3 310.8L661.2 311.6L662.2 312.5L663.1 313.3L664.1 314.1L665 315L666 315.8L666.9 316.7L667.7 317.7L668.5 318.6L669.4 319.6L670.3 320.4L671.3 321.2L672.2 321.9L673.4 322.5L674.5 323L675.6 323.5L676.8 324L677.9 324.5L679 325L680.3 325.3L681.5 325.6L682.7 326L683.9 326.4L685.1 326.7L686.3 327.2L687.4 327.8L688.5 328.4L689.5 329.1L690 329.7L690.5 330.4L691 331.1L691.6 331.7L692.1 332.4L692.6 333L693.1 333.6L693.6 334.1L694.2 334.6L694.7 335.1L695.2 335.6L695.7 336.1L696.3 336.6L697.2 337.1L698.3 337.6L699.4 338.1L700.7 338.3L701.9 338.5L703.1 338.6L704.4 338.8L705.6 339L706.8 339.1L708.1 339L709.3 338.8L710.6 338.7L711.8 338.5L713.1 338.4L714.3 338.3L715.6 338.2L716.8 337.8L718 337.5L719.2 337.4L720.4 337.3L721.6 337.3L722.8 337.3L724 337L725.2 336.6L726.4 336.2L727.6 335.8L728.8 335.4L730 335L731.2 334.6L732.4 334.2L733.6 333.8L734.8 333.4L736 333L737.2 332.5L738.1 331.8L739.1 331L740 330.2L741 329.3L741.9 328.5L742.9 327.7L743.8 326.9L744.8 326.1L745.7 325.2L746.5 324.3L747.4 323.3L748.2 322.4L749.1 321.4L749.9 320.5L750.9 319.7L751.8 318.8L752.7 318L753.7 317.2L754.6 316.3L755.6 315.5L756.5 314.7L757.4 313.8L758.4 313L759.4 312.2L760.3 311.4L761.3 310.6L762.4 310L763.5 309.3L764.5 308.6L765.6 308.1L766.8 308L767.9 307.8L769.1 307.7L770.3 307.6L771.5 307.6L772.7 307.7L773.8 308.2L774.9 308.7L776 309.3L777 310L778.1 310.7L778.9 311.6L779.7 312.6L780.4 313.7L781 314.8L781.7 315.8L782.4 316.9L783.2 317.9L783.9 319L784.3 320L784.6 321.1L784.9 322.2L784.9 323.3L784.6 324.2L784.2 325.2L783.8 326.2L782.8 326.8L781.8 327.3L780.7 327.9L779.6 328.4L778.5 328.8L777.3 329.2L776.1 329.6L774.9 329.9L773.7 330.3L772.5 330.7L771.3 331.1L770.1 331.5L768.9 331.9L767.7 332.3L766.6 332.9L765.6 333.5L764.5 334.2L763.5 334.9L762.7 335.8L762.1 336.8L761.4 337.9L760.8 339L760.9 340.1L761.3 341.3L761.8 342.5L762.5 343.4L763.5 343.9L764.7 344.4L765.8 344.9L766.9 345.3L768.1 345.7L769.3 345.9L770.6 346L771.8 346.2L773.1 346.4L774.3 346.5L775.6 346.6L776.8 346.7L778.1 346.7L779.4 346.8L780.6 346.9L781.9 347L783.2 347L784.4 347.1L785.7 347.2L787 347.2L788.2 347.3L789.5 347.4L790.8 347.5L792 347.6L793.3 347.7L794.5 347.9L795.8 348L797.1 348.1L798.3 348.3L799.6 348.4L800.8 348.6L802.1 348.7L803.4 348.9L804.6 349L805.9 349.2L807.1 349.3L808.4 349.5L809.6 349.6L810.9 349.8L812.1 350L813.4 350.1L814.7 350.2L815.9 350.3L817.2 350.3L818.5 350.4L819.7 350.5L821 350.5L822.3 350.6L823.5 350.6L824.8 350.7L826.1 350.8L827.3 350.8L828.6 350.9L829.9 350.9L830 400L830 228L800 236L770 250L740 262L715 264L690 275L650 288L633.3 301L633.4 301Z"/>
<path class="c" fill="#b1ff80" d="M526.2 246.9L534.9 238.2L543.6 229.5L552.4 220.7L558.2 212L564 203.2L569.9 197.4L581.5 194.5L593.2 193L604.8 194.5L616.5 197.4L628.1 203.2L639.8 209.1L636 240L641 222L650 150L650 55L300 55L300 300L511.6 255.7L517.4 255.7ZM659 307L665.2 312.3L670.1 317.5L676.4 321.3L682.7 323.1L688.3 325.9L693.9 328.7L702.3 331.5L710.7 333.6L719.1 333.6L727.5 331.5L740.1 328L745.9 321.7L751.5 316.2L757.1 312L762.7 307.8L766.9 305.7L773.9 306.6L779.5 310.6L783 316.2L786.5 321.7L786.5 325.9L782.3 329.4L776.7 331.5L771.1 332.9L766.9 335L764.1 338.5L765.5 342L771.1 343.4L779.5 343.8L787.9 344.1L796.3 344.8L806.1 346.2L815 347.6L829.9 348.3L830 400L830 228L800 236L770 250L740 262L715 264L690 275L650 288L638.1 297.3L649.2 301.4Z"/>
<path class="c" fill="#90ff80" d="M566.9 197.4L575.7 191.6L584.4 185.8L593.2 179.9L599 172.6L607.7 174.1L616.5 178.5L625.2 182.8L634 188.7L642.7 197.4L636 240L641 222L650 150L650 55L300 55L300 300L552.4 206.2L558.2 206.2ZM691.1 307L699.5 308.4L707.9 310.5L713.5 314L714.9 321L712.8 328L716.3 326.6L721.9 325.2L728.9 323.8L740.1 321L745.9 316.2L752.9 312L759.9 307.1L766.2 305L773.9 305.7L780.2 309.9L783.7 315.5L787.9 320.3L796.3 323.1L801.9 328.7L808.9 331.5L815 332.9L829.9 332.9L830 228L800 236L770 250L740 262L715 264L690 275L650 288L632 302L618 312L679.9 298.6L678.5 304.2L682.7 306.3ZM786.5 342.3L790 341L786.5 339.5L779.5 338.5L772.5 338.5L768.3 339.9L772.5 341.9L779.5 342.3Z"/>
<path class="c" fill="#80ff90" d="M631 133.3L636.9 127.5L628.1 118.7L616.5 112.9L604.8 115.8L609.2 124.6L619.4 130.4ZM636.9 150.8L628.1 147.3L619.4 150.8L622.3 159.5L631 162.4L638.3 158.1ZM648.2 176.4L652.7 187.3L662.7 205.5L660.9 218.2L646.4 220L639.1 223.6L630 227.3L635.5 231.8L642.7 237.3L650 242.7L659.1 250L668.2 256.4L677.3 260.9L686.4 262.7L695.5 261.8L704.5 260L711.8 257.3L726.4 257.3L740.9 252.7L759.1 245.5L777.3 240L790 233.6L804.5 228.2L817.3 223.6L817.3 63.6L655.5 63.6L660.9 114.5L657.3 150.9L648.2 169.1ZM636.9 168.3L625.2 163.9L613.6 165.4L617.9 175.6L628.1 179.9L638.3 177ZM537.8 244L534.9 236.7L523.2 235.3L513 239.7L511.6 246.9L517.4 252.8L529.1 251.3ZM501.4 260.1L494.7 263L496.4 268.8L502.8 269.7L506.3 264.4ZM708.2 321.4L719.9 322.8L731.5 321.4L743.2 318.5L754.8 312.6L763.6 306.8L769.4 308.3L773.8 317L778.1 324.3L784 326.3L791.2 324.3L798.5 328.7L807.3 334.5L814.8 337.4L821.8 337.4L821.8 238.3L784 252.9L754.8 264.6L731.5 276.2L716.9 282.1L705.3 287.9L690.7 293.7L676.2 301L677.6 308.3L684.9 314.1L696.6 318.5Z"/>
<path class="c" fill="#80ffb1" d="M657.3 150.9L651.8 169.1L653.6 178.2L660.7 176.7L669.3 177.8L676.7 183.3L682.2 190.7L687.5 189.6L692.9 187.5L698.2 186.9L703.6 186.4L710 186.4L716.4 188.5L720.7 190.7L725.1 192.9L731.5 194.5L738.9 195.6L735.5 200.9L731.8 210L730 219.1L724.5 210L720.9 201.8L713.6 204.5L704.5 208.2L699.1 211.8L695.5 218.2L693.6 223.6L688.2 229.1L684.5 234.5L686.4 241.8L691.8 247.3L695.5 256.4L704.5 259.1L711.8 257.3L726.4 257.3L740.9 252.7L759.1 245.5L777.3 240L790 233.6L804.5 228.2L817.3 223.6L817.3 63.6L655.5 63.6L660.9 114.5ZM706.7 306.8L716.9 312.6L731.5 315.6L746.1 312.6L757.7 308.3L766.5 301L772.3 305.4L781 308.3L789.8 305.4L798.5 303.9L807.3 308.3L814.8 311.2L821.8 311.2L821.8 238.3L784 252.9L754.8 264.6L731.5 273.3L716.9 279.1L708.2 285L702.4 296.6Z"/>
<path class="c" fill="#80ffd1" d="M657.3 150.9L651.8 169.1L655.3 174.7L656.4 173.6L660.7 169.3L666 167.1L671.5 169.3L676.7 171.5L682.2 175.8L685.5 178.9L684.4 183.3L687.5 183.3L695.1 181.1L701.5 182.2L707.8 180L713.3 177.8L714.4 174.7L719.6 173.6L725.1 171.5L727.1 168.2L728.2 162.9L726 157.5L733.6 158.2L740.9 158.2L748.2 160L754.5 160.9L757.3 163.6L755.5 172.7L754.5 185.5L757.3 194.5L751.8 199.1L750 203.6L753.6 209.1L759.1 213.6L766.4 217.3L773.6 220.9L777.3 224.5L775.5 229.1L766.4 232.7L759.1 235.5L751.8 241.8L759.1 243.6L777.3 240L790 233.6L804.5 228.2L817.3 223.6L817.3 63.6L655.5 63.6L660.9 114.5ZM716.9 305.4L731.5 309.7L744.6 306.8L754.8 302.4L762.1 293.7L769.4 290.8L781 293.7L789.8 298.1L801.4 299.5L814.8 303.9L821.8 303.9L821.8 238.3L784 252.9L754.8 264.6L737.3 276.2L716.9 287.9L712.6 296.6Z"/>
<path class="c" fill="#80fff2" d="M686.4 158.2L691.9 160.9L685.5 161.8L677.8 162.9L672.5 165.1L671.5 167.1L676.7 168.2L682.2 169.3L687.5 171.5L692.9 172.5L698.2 170.4L703.6 170.9L714.4 170.4L719.6 168.2L725.1 162.9L727.1 156.4L725.1 141.5L727.1 135.1L726.5 130.2L733.6 128.2L740.9 130L748.2 132.7L753.6 138.2L757.3 143.6L762.7 145.5L770 147.3L777.3 150.9L782.7 156.4L786.4 161.8L784.5 165.5L780 169.1L778.2 176.4L779.1 183.6L781.8 190.9L784.5 197.3L788.2 204.5L790 210L786.4 213.6L780.9 217.3L777.3 220.9L777.3 226.4L780.9 230.9L786 232.8L777.3 235.5L770 239.1L762.7 244.5L755.5 250L757.3 254.5L760.9 259.1L768.2 262.7L777.3 264.5L786.4 262.7L795.5 262.7L804.5 264.5L813.6 266.4L820.9 268.2L820.9 220.9L817.3 222L817.3 102.7L814.9 101.8L806.4 102.2L799.1 100.9L791.8 98.2L784.5 93.6L777.3 89.1L770 85.5L762.7 81.8L758.2 76.4L756.4 67.3L756.4 63.6L655.5 63.6L660.9 114.5ZM731.5 308.9L738.8 305.4L739.7 296.6L734.4 290.8L725.7 290.2L719.3 293.7L718.7 301L723.4 307.7Z"/>
<path class="c" fill="#76f5ff" d="M720.9 85.5L728.2 87.3L733.6 83.6L735.5 77.3L731.8 70.9L722.7 68.2L710 68.2L699.1 69.1L692.7 72.7L695.5 76.4L704.5 78.2L713.6 81.8ZM691.8 109.1L696.4 103.6L700.9 96.4L703.1 89.1L699.1 83.6L691.8 80.4L684.5 81.8L680 85.5L679.5 92.7L682.7 99.1L687.3 105.5ZM775.5 119.1L776.4 114.5L771.8 108.2L766.4 104.5L759.1 104L754.5 107.3L758.2 112.7L763.6 117.3L770 120.4ZM712.7 157.3L710 152.7L704.5 151.8L701.5 154.5L702.7 160.9L706.4 163.6L711.8 161.8ZM706.4 170.9L712.7 168.7L710 166.4L702.7 167.3L693.6 165.5L686.4 164.5L680.9 167.3L684.5 170L691.8 171.3L699.1 170.5ZM795.5 119.1L790 120L790.9 123.6L795.5 125.5L791.8 130.9L786.4 136.4L784.5 143.6L788.2 150.9L793.6 156.4L800.9 160L804.5 165.5L805.5 172.7L804.5 180L800.9 187.3L802.7 194.5L804.5 201.8L800.9 208.2L795.5 213.6L793.6 219.1L790 223.6L791.8 228.2L794.9 230.5L794.8 230.5L793.8 230.9L792.7 231.3L791.7 231.7L790.7 232.1L789.7 232.5L788.6 232.8L787.6 233.1L786.5 233.4L785.5 233.7L784.4 234L783.3 234.3L782.3 234.6L781.3 235L780.3 235.4L779.3 235.9L778.3 236.4L777.3 236.9L776.3 237.3L775.3 237.8L774.4 238.4L773.5 239L772.6 239.7L771.7 240.3L770.9 241L770 241.6L769.1 242.3L768.2 242.9L767.3 243.5L766.4 244.2L765.5 244.8L764.7 245.5L763.8 246.1L763 246.8L762.2 247.5L762.1 248.4L762.5 249.4L762.9 250.4L763.3 251.4L763.8 252.4L764.5 253.2L765.2 254L765.9 254.9L766.7 255.7L767.6 256.2L768.6 256.7L769.5 257.2L770.5 257.7L771.5 258.2L772.5 258.7L773.5 259.1L774.6 259.3L775.6 259.5L776.7 259.7L777.8 260L778.9 260.2L779.9 260.4L781 260.6L782.1 260.6L783.2 260.4L784.3 260.2L785.3 260L786.4 259.8L787.5 259.7L788.6 259.5L789.6 259.3L790.7 259.3L791.8 259.3L792.9 259.3L794 259.3L795.1 259.3L796.2 259.3L797.3 259.3L798.4 259.4L799.5 259.6L800.5 259.8L801.6 260L802.7 260.2L803.8 260.5L804.9 260.7L805.9 260.9L807 261.1L808.1 261.3L809.2 261.5L810.2 261.8L811.3 262L812.4 262.2L813.5 262.4L814.5 262.6L815.6 262.9L816.7 263.2L817.7 263.4L818.8 263.7L819.8 264L820.9 264.2L820.9 222.6L819.9 222.9L818.8 223.2L817.7 223.5L817.3 223.6L817.3 114.5L813.6 114.5L808.2 116.4L802.7 120ZM734.4 295.2L727.1 293.7L721.3 298.1L724.2 305.9L731.5 306.8L737.3 302.4Z"/>
<path class="c" fill="#66e5ff" d="M808.2 147.3L810 154.5L812.7 161.8L811.8 169.1L810 178.2L810.9 187.3L812.7 196.4L810 205.5L804.5 214.5L800.9 221.8L799.1 227.3L804.5 228.2L817.3 223.6L817.3 136.4L811.8 140ZM819 224.7L818.1 224.9L817.1 225.2L816.2 225.4L815.3 225.7L814.3 226L813.4 226.2L812.5 226.5L811.5 226.8L810.6 227L809.7 227.3L808.8 227.6L807.8 227.8L806.9 228.1L805.9 228.3L805 228.5L804.1 228.8L803.1 229L802.2 229.2L801.2 229.5L800.3 229.7L799.4 230L798.5 230.3L797.5 230.6L796.6 230.9L795.7 231.2L794.8 231.6L793.9 231.9L793 232.2L792 232.5L791.1 232.8L790.1 233L789.2 233.3L788.3 233.5L787.3 233.8L786.4 234.1L785.4 234.4L784.6 234.7L783.7 235.1L782.8 235.5L781.9 236L781 236.4L780.2 236.8L779.3 237.3L778.5 237.9L777.7 238.4L776.9 239L776.1 239.5L775.3 240.1L774.5 240.7L773.7 241.2L772.9 241.8L772.1 242.3L771.3 242.9L770.5 243.4L769.8 244L769.2 244.7L768.5 245.3L768.5 246.1L768.8 247L769.2 247.9L769.5 248.8L770 249.7L770.6 250.4L771.2 251.1L771.9 251.8L772.6 252.5L773.4 253L774.3 253.4L775.2 253.8L776 254.3L776.9 254.7L777.8 255.1L778.7 255.5L779.6 255.7L780.6 255.8L781.6 256L782.5 256.2L783.5 256.4L784.4 256.6L785.4 256.7L786.4 256.8L787.3 256.6L788.3 256.5L789.2 256.4L790.2 256.2L791.2 256.1L792.1 255.9L793.1 255.8L794 255.8L795 255.8L796 255.8L797 255.9L797.9 255.9L798.9 255.9L799.9 255.9L800.9 256L801.8 256.2L802.8 256.4L803.7 256.5L804.7 256.7L805.7 256.9L806.6 257.1L807.6 257.3L808.5 257.5L809.5 257.7L810.4 257.9L811.4 258.1L812.4 258.3L813.3 258.5L814.3 258.7L815.2 258.9L816.2 259.1L817.1 259.4L818.1 259.6L819 259.8L820 260.1L820.9 260.3L820.9 224.2L820 224.5Z"/>
<path class="c" fill="#55d5ff" d="M820.1 226.1L819.2 226.3L818.4 226.4L817.6 226.6L816.8 226.8L815.9 227L815.1 227.2L814.3 227.4L813.5 227.6L812.6 227.8L811.8 228L811 228.2L810.2 228.4L809.4 228.6L808.5 228.8L807.7 229L806.9 229.1L806 229.3L805.2 229.5L804.4 229.7L803.6 229.8L802.7 230L801.9 230.2L801.1 230.5L800.3 230.7L799.5 230.9L798.7 231.2L797.9 231.5L797 231.7L796.2 232L795.4 232.2L794.6 232.4L793.8 232.7L792.9 232.9L792.1 233.1L791.3 233.3L790.5 233.5L789.6 233.8L788.8 234.1L788.1 234.4L787.3 234.7L786.5 235.1L785.7 235.5L785 235.8L784.2 236.3L783.5 236.7L782.8 237.2L782.1 237.7L781.4 238.1L780.7 238.6L779.9 239.1L779.2 239.5L778.5 240L777.8 240.5L777.1 240.9L776.4 241.4L775.7 241.9L775.3 242.5L774.9 243.1L774.9 243.8L775.2 244.6L775.4 245.4L775.7 246.2L776.1 247L776.7 247.6L777.3 248.2L777.9 248.8L778.5 249.3L779.2 249.7L780 250.1L780.8 250.5L781.5 250.8L782.3 251.2L783.1 251.5L783.9 251.9L784.7 252L785.6 252.2L786.4 252.3L787.2 252.5L788.1 252.6L788.9 252.8L789.8 252.9L790.6 252.9L791.5 252.9L792.3 252.8L793.1 252.7L794 252.6L794.8 252.5L795.7 252.4L796.5 252.3L797.4 252.3L798.2 252.4L799.1 252.4L799.9 252.4L800.8 252.5L801.6 252.5L802.5 252.5L803.3 252.6L804.2 252.7L805 252.9L805.9 253L806.7 253.2L807.6 253.3L808.4 253.5L809.2 253.7L810.1 253.9L810.9 254L811.7 254.2L812.6 254.4L813.4 254.6L814.3 254.8L815.1 254.9L815.9 255.1L816.8 255.3L817.6 255.5L818.4 255.7L819.2 255.9L820.1 256.2L820.9 256.4L820.9 225.9Z"/>
<path class="c" fill="#45c4ff" d="M820.2 227.7L819.5 227.8L818.8 227.9L818 228L817.3 228.2L816.6 228.3L815.9 228.4L815.2 228.6L814.5 228.7L813.8 228.8L813 229L812.3 229.1L811.6 229.2L810.9 229.4L810.2 229.5L809.5 229.6L808.7 229.7L808 229.8L807.3 230L806.6 230.1L805.9 230.2L805.2 230.3L804.4 230.5L803.7 230.6L803 230.8L802.3 230.9L801.6 231.1L800.9 231.3L800.2 231.5L799.5 231.8L798.8 231.9L798.1 232.1L797.4 232.3L796.7 232.5L796 232.6L795.2 232.8L794.5 233L793.8 233.2L793.1 233.4L792.4 233.6L791.8 233.9L791.1 234.2L790.4 234.5L789.8 234.9L789.1 235.2L788.5 235.6L787.9 236L787.3 236.3L786.6 236.7L786 237.1L785.4 237.5L784.8 237.9L784.1 238.2L783.5 238.6L782.9 239L782.2 239.4L781.7 239.8L781.5 240.4L781.2 240.9L781.3 241.6L781.5 242.3L781.7 243L781.9 243.6L782.2 244.3L782.7 244.8L783.3 245.3L783.8 245.7L784.4 246.1L785 246.5L785.7 246.8L786.4 247.1L787 247.4L787.7 247.7L788.4 248L789.1 248.2L789.8 248.3L790.5 248.5L791.3 248.6L792 248.7L792.7 248.8L793.4 248.9L794.2 249.1L794.9 249.1L795.6 249.1L796.3 249L797.1 249L797.8 249L798.5 248.9L799.2 248.9L800 248.8L800.7 248.9L801.4 248.9L802.2 248.9L802.9 249L803.6 249L804.4 249.1L805.1 249.1L805.8 249.2L806.5 249.3L807.3 249.4L808 249.5L808.7 249.7L809.4 249.8L810.2 249.9L810.9 250.1L811.6 250.2L812.3 250.4L813 250.6L813.8 250.7L814.5 250.9L815.2 251L815.9 251.2L816.6 251.4L817.3 251.5L818.1 251.7L818.8 251.9L819.5 252.1L820.2 252.2L820.9 252.4L820.9 227.6Z"/>
<path class="c" fill="#35b4ff" d="M820.3 229.3L819.7 229.4L819.1 229.4L818.5 229.5L817.9 229.5L817.3 229.6L816.7 229.7L816.1 229.7L815.5 229.8L814.9 229.9L814.3 229.9L813.6 230L813 230.1L812.4 230.1L811.8 230.2L811.2 230.3L810.6 230.3L810 230.4L809.4 230.4L808.8 230.5L808.2 230.5L807.6 230.6L807 230.7L806.4 230.8L805.8 230.8L805.2 230.9L804.6 231.1L804 231.2L803.4 231.4L802.8 231.5L802.2 231.6L801.6 231.8L801 231.9L800.4 232L799.8 232.2L799.2 232.3L798.6 232.4L798 232.6L797.4 232.7L796.8 232.9L796.3 233.1L795.7 233.3L795.1 233.6L794.6 233.9L794 234.1L793.5 234.4L793 234.7L792.4 235L791.9 235.3L791.3 235.6L790.8 235.9L790.3 236.2L789.7 236.5L789.2 236.8L788.7 237L788.1 237.3L787.7 237.7L787.6 238.2L787.6 238.7L787.6 239.3L787.8 239.9L788 240.5L788.2 241L788.4 241.6L788.8 242L789.3 242.3L789.8 242.6L790.3 242.9L790.9 243.2L791.4 243.5L792 243.7L792.6 243.9L793.1 244.2L793.7 244.4L794.3 244.6L794.9 244.7L795.5 244.8L796.1 244.9L796.7 245L797.3 245L797.9 245.1L798.5 245.2L799.1 245.3L799.7 245.3L800.4 245.3L801 245.3L801.6 245.3L802.2 245.3L802.8 245.3L803.4 245.4L804 245.4L804.6 245.5L805.2 245.5L805.8 245.6L806.5 245.6L807.1 245.7L807.7 245.7L808.3 245.8L808.9 245.9L809.5 246L810.1 246L810.7 246.1L811.3 246.2L811.9 246.3L812.5 246.5L813.1 246.6L813.7 246.7L814.3 246.9L814.9 247L815.5 247.2L816.1 247.3L816.7 247.4L817.3 247.6L817.9 247.7L818.5 247.9L819.1 248L819.7 248.2L820.3 248.3L820.9 248.5L820.9 229.2Z"/>
<path class="c" fill="#24a4ff" d="M814.9 230.9L808.2 230.9L800.9 232.2L793.6 235.5L794.5 239.1L799.1 240.9L806.4 241.8L813.6 242.7L820.9 244.5L820.9 230.9Z"/>
<path class="c" fill="#90ff80" d="M630 215L634 228L645 236L660 236L672 228L676 216L670 200L655 192L638 200Z"/>
<path class="c" fill="#b1ff80" d="M630 230L636 236L648 240L662 238L660 232L645 226L634 224Z"/>
<path class="c" fill="#fff576" d="M600 310L615 318L638 312L638 294L600 296Z"/>
<path class="c" fill="#ffd555" d="M604.8 276.1L616.5 277.5L625.2 273.2L629.6 261.5L625.2 252.8L616.5 255.7L604.8 257.1L596.1 261.5L597.5 270.3ZM558.2 299.4L566.9 305.2L575.7 302.3L580.1 293.6L581.5 281.9L575.7 274.6L566.9 273.2L558.2 276.1L550.9 284.8L552.4 293.6Z"/>
<path class="c" fill="#ffc445" d="M594 316L596 332L612 334L625 330.7L626.1 339.2L633.8 349L639.4 353.8L635.2 344.8L633.1 337.1L641.5 336.4L644.3 340.6L647.8 337.8L659 341.3L670.1 343.4L672.9 335L663.1 323.8L652 316.1L638 315.1L626.5 318.4L626 314L610 312ZM179.1 362.4L187.8 358.1L193.6 350.8L187.8 345L176.2 343.5L164.5 347.9L164.5 355.2L170.3 361ZM123.7 400.3L131 407.6L136.8 413.4L145.6 417.8L155.8 414.9L164.5 410.5L170.3 404.7L167.4 397.4L164.5 388.7L167.4 377L167.4 365.4L158.7 358.1L148.5 361L142.6 368.3L138.3 378.5L126.6 382.8L115 381.4L104.8 384.3L104.8 393L112.1 397.4Z"/>
<path class="c" fill="#ffb435" d="M626.8 318.2L618.4 317.9L616.9 318.3L612 318L598 322L600 328L614 326L630 324L629.6 323.5L633.8 323.1L638 321L635.2 318.9ZM675.7 392.3L677.2 394.5L677.6 396L678.3 396.1L678.5 396.5L682.7 399.3L689.7 396.5L696.7 393L702.3 389.5L705.1 383.9L705.1 378.3L698.1 377.6L696.9 377.7L696.6 377.6L693.7 377.8L689.7 378L688.8 378.3L686.4 378.5L684 379.4L682.7 379.7L682.5 380L679.1 381.4L675.6 388.7L676.2 391.1ZM138.3 407.6L142.6 412L148.5 413.4L155.8 410.5L161.6 406.2L160.1 401.8L155.2 397.4L158.1 390.1L159.3 379.9L161.6 369.7L157.2 365.4L149.9 366.8L145.6 372.6L141.2 379.9L135.4 385.8L126.6 388.7L117.9 385.8L109.1 387.2L113.5 394.5L120.8 396L128.1 397.4L133.9 403.2ZM377.1 400.8L383.9 402.5L385.6 396.5L380.5 394.2L371.9 394.8L365.9 397.3L362.5 395.6L364.2 391.3L368.5 387.9L371.9 385.3L368.5 385L361.6 387.9L358.2 392.2L359.1 399L363.4 403.3L370.2 401.6ZM763 401.8L765 394.5L760.7 386.3L753.4 385.2L748.4 390.1L747.5 397.4L750.5 403.8L756.3 405.6ZM798.5 397.4L807.3 398.9L813.1 395.1L810.2 390.1L801.4 388.1L792.7 389.3L784 392.2L775.2 390.1L767.9 393L772.3 398.9L781 402.7L789.8 400.3ZM622.6 414L625.4 411.9L625.2 411.7L626.6 403.2L620.8 397.4L618.5 397.9L618.4 397.9L618.1 398L614.4 398.9L614.4 407.6L617.9 414.3L620.2 413.6Z"/>
<path class="c" fill="#e26200" d="M461 523.3L467 524.8L474.5 523.3L481.2 524.8L483.4 529.3L485.7 533L483.4 536.7L486.4 541.2L493.4 541.2L480 542.7L487.5 541.9L494.9 541.9L502.4 541.2L506.9 539.7L507.6 534.5L503.9 530.7L506.1 526.3L505.4 522.5L500.9 523.3L494.9 524.8L496.4 517.6L502.4 516.1L506.9 518.4L511.3 517.6L515.8 513.9L518.8 508.7L521.8 505.7L519.6 502.7L515.8 506.4L507.6 508.7L499.4 507.2L494.9 508.7L496.4 512.5L490.4 514L484.5 514.6L495.2 514.2L493.9 514.6L486.4 515.8L480.4 513.6L474.5 509.9L465.5 512.1L459.6 515.8Z"/>
<path class="c" fill="#e26200" d="M731.5 718.8L737.3 718.8L738.8 711.5L737.3 704.2L733 705.7L728.6 710.1L724.2 714.4L727.1 717.3ZM619.3 771.2L626.6 771.2L628.1 762.5L620.8 759.6L615 761L615.5 766.9Z"/>
<path class="c" fill="#ffd555" d="M797.1 377.6L804.4 375.6L811.6 374.1L812.5 367.7L804.4 365.4L795.6 364.8L788.3 369.7L789.8 375.6ZM772.3 375.6L774.6 368.3L769.4 365.4L763.6 368.3L759.2 375.6L766.5 378.5Z"/>
<path class="c" fill="#ffe566" d="M243.2 387.2L247.5 396L251.9 401.8L256.3 400.3L254.8 391.6L250.5 382.8L244.6 376.4L239.7 378.5Z"/>
<path class="c" fill="#b1ff80" d="M706.4 266.4L708.2 273.6L711.8 280.9L720.9 282.7L730 280.9L739.1 277.3L746.4 271.8L751.8 264.5L757.3 257.3L759.1 250L751.8 245.5L740.9 244.5L730 246.4L719.1 250L710 255.5L704.5 260.9Z"/>
<path class="c" fill="#f2ff80" d="M711.8 271.8L717.3 275.5L726.4 273.6L733.6 270L740.9 264.5L746.4 257.3L748.2 250L740.9 248.2L731.8 249.1L722.7 252.7L715.5 257.3L710 262.7Z"/>
<path class="c" fill="#90ff80" d="M628.2 237.3L650 259.1L686.4 273.6L711.8 268.2L711.8 256.4L704.5 259.1L695.5 261.3L686.4 261.8L677.3 259.5L668.2 255.1L659.1 249.1L650 242.7L639.1 235.5L628.2 226.4Z"/>
<path class="c" fill="#90ff80" d="M778 310.3L777.9 310.9L777.8 311.5L777.8 312.1L777.7 312.7L777.6 313.3L777.5 313.9L777.4 314.5L777.3 315.1L777.2 315.7L777.1 316.3L777 316.9L777.2 317.4L777.6 317.9L777.9 318.4L778.3 318.9L778.6 319.4L779 319.9L779.3 320.4L779.7 320.9L780 321.4L780.4 321.9L780.7 322.4L781.1 322.8L781.7 323L782.3 323.1L782.8 323.2L783.4 323.3L784 323.4L784.6 323.6L785.2 323.7L785.8 323.8L786.4 323.9L787 324L787.6 324.2L788.2 324.3L788.8 324.1L789.3 323.9L789.9 323.7L790.4 323.5L791 323.2L791.6 323L792.1 322.8L792.7 322.6L793.2 322.3L793.8 322.1L794.4 321.9L794.9 321.7L795.5 321.4L795.7 320.9L795.8 320.3L795.9 319.7L796.1 319.2L796.2 318.6L796.3 318L796.4 317.4L796.5 316.8L796.7 316.2L796.8 315.6L796.9 315L797 314.4L796.9 313.9L796.5 313.4L796.2 312.9L795.8 312.4L795.4 311.9L795.1 311.5L794.7 311L794.4 310.5L794 310L793.6 309.5L793.3 309L792.9 308.5L792.4 308.2L791.8 308.1L791.3 308L790.7 307.9L790.1 307.8L789.5 307.7L788.9 307.6L788.3 307.5L787.7 307.4L787.1 307.3L786.5 307.2L785.9 307.1L785.3 307L784.7 306.9L784.1 306.8L783.5 307L783 307.3L782.5 307.6L781.9 307.8L781.4 308.1L780.8 308.4L780.3 308.7L779.8 308.9L779.2 309.2L778.7 309.5L778.1 309.7Z"/>
<path class="c" fill="#b1ff80" d="M628.2 237.3L650 259.1L686.4 273.6L711.8 268.2L711.8 257.2L704.5 259.9L695.5 262.1L686.4 262.7L677.3 260.4L668.2 256.1L659.1 250.1L650 243.7L639.1 236.5L628.2 227.3Z"/>
<path class="c" fill="#80ff90" d="M779.2 311L779.1 311.5L779 312L779 312.5L778.9 313.1L778.9 313.6L778.8 314.1L778.7 314.6L778.7 315.1L778.6 315.6L778.6 316.2L778.5 316.7L778.7 317.1L779 317.6L779.2 318L779.5 318.5L779.8 318.9L780.1 319.4L780.3 319.8L780.6 320.2L780.9 320.7L781.2 321.1L781.5 321.5L781.9 321.8L782.4 321.9L782.9 322.1L783.4 322.2L783.9 322.3L784.4 322.4L784.9 322.5L785.5 322.6L786 322.7L786.5 322.9L787 323L787.5 323.1L788 323.2L788.5 323L789 322.8L789.5 322.6L790 322.4L790.4 322.2L790.9 322L791.4 321.8L791.9 321.6L792.4 321.4L792.9 321.2L793.3 321L793.8 320.8L794.3 320.6L794.5 320.2L794.7 319.7L794.8 319.2L794.9 318.7L795 318.2L795.1 317.7L795.2 317.2L795.2 316.6L795.3 316.1L795.4 315.6L795.5 315.1L795.6 314.6L795.5 314.1L795.2 313.7L794.9 313.2L794.6 312.8L794.3 312.4L794 312L793.7 311.6L793.4 311.2L793 310.8L792.7 310.4L792.4 310L792 309.6L791.6 309.3L791.1 309.2L790.6 309.1L790.1 309L789.6 308.8L789.1 308.7L788.6 308.6L788 308.5L787.5 308.4L787 308.3L786.5 308.3L786 308.2L785.5 308.1L785 308.1L784.4 308L784 308.2L783.5 308.4L783 308.7L782.5 308.9L782.1 309.1L781.6 309.3L781.1 309.6L780.6 309.8L780.2 310L779.7 310.2L779.2 310.5Z"/>
<path class="c" fill="#d1ff80" d="M628.2 237.3L650 259.1L686.4 273.6L711.8 268.2L711.8 258L704.5 260.7L695.5 263L686.4 263.6L677.3 261.3L668.2 257.1L659.1 251.1L650 244.8L639.1 237.5L628.2 228.2Z"/>
<path class="c" fill="#80ffb1" d="M780.3 311.6L780.3 312.1L780.2 312.5L780.2 312.9L780.2 313.4L780.2 313.8L780.1 314.3L780.1 314.7L780.1 315.1L780.1 315.6L780 316L780 316.5L780.2 316.9L780.3 317.3L780.5 317.6L780.7 318L780.9 318.4L781.1 318.8L781.3 319.2L781.5 319.6L781.8 319.9L782.1 320.2L782.4 320.5L782.7 320.8L783.1 320.9L783.5 321L784 321.1L784.4 321.3L784.8 321.4L785.3 321.5L785.7 321.6L786.1 321.7L786.6 321.8L787 321.9L787.4 322L787.9 322.1L788.3 321.9L788.7 321.8L789.1 321.6L789.5 321.4L789.9 321.2L790.3 321L790.7 320.8L791.1 320.7L791.5 320.5L791.9 320.3L792.3 320.1L792.7 319.9L793.1 319.7L793.4 319.4L793.5 319L793.7 318.7L793.8 318.2L793.8 317.8L793.9 317.4L793.9 316.9L793.9 316.5L794 316.1L794 315.6L794.1 315.2L794.1 314.7L794 314.3L793.8 313.9L793.6 313.6L793.4 313.2L793.2 312.8L793 312.5L792.7 312.1L792.3 311.8L792 311.5L791.7 311.2L791.4 310.9L791.1 310.6L790.8 310.3L790.3 310.2L789.9 310.1L789.5 310L789.1 309.9L788.7 309.7L788.2 309.6L787.8 309.5L787.4 309.4L787 309.3L786.5 309.3L786.1 309.3L785.7 309.3L785.2 309.2L784.8 309.2L784.4 309.4L784 309.6L783.6 309.7L783.2 309.9L782.8 310.1L782.4 310.3L781.9 310.5L781.5 310.6L781.1 310.8L780.7 311L780.3 311.2Z"/>
<path class="c" fill="#f2ff80" d="M628.2 237.3L650 259.1L686.4 273.6L711.8 268.2L711.8 258.9L704.5 261.5L695.5 263.9L686.4 264.5L677.3 262.3L668.2 258L659.1 252L650 245.8L639.1 238.5L628.2 229.1Z"/>
<path class="c" fill="#80ffd1" d="M781.4 312.3L781.4 312.6L781.4 313L781.4 313.4L781.5 313.7L781.5 314.1L781.5 314.4L781.5 314.8L781.5 315.2L781.5 315.5L781.5 315.9L781.5 316.3L781.6 316.6L781.7 316.9L781.8 317.3L782 317.6L782.1 317.9L782.2 318.3L782.3 318.6L782.4 319L782.6 319.2L782.9 319.4L783.2 319.6L783.5 319.8L783.8 319.9L784.2 320L784.5 320.1L784.9 320.2L785.2 320.3L785.6 320.4L785.9 320.5L786.3 320.6L786.6 320.7L787 320.8L787.3 320.9L787.7 321L788 320.8L788.4 320.7L788.7 320.5L789 320.4L789.3 320.2L789.7 320L790 319.9L790.3 319.7L790.6 319.5L791 319.4L791.3 319.2L791.6 319.1L791.9 318.9L792.2 318.7L792.4 318.4L792.6 318.1L792.6 317.8L792.6 317.4L792.6 317.1L792.6 316.7L792.6 316.4L792.6 316L792.6 315.6L792.6 315.3L792.6 314.9L792.6 314.6L792.5 314.2L792.3 313.9L792.2 313.6L792.1 313.2L791.9 312.9L791.6 312.7L791.3 312.5L791.1 312.3L790.8 312L790.5 311.8L790.2 311.6L789.9 311.4L789.6 311.3L789.3 311.1L788.9 311L788.6 310.9L788.3 310.7L787.9 310.6L787.6 310.5L787.2 310.3L786.9 310.2L786.6 310.3L786.2 310.3L785.9 310.4L785.5 310.4L785.1 310.4L784.8 310.6L784.5 310.7L784.1 310.8L783.8 311L783.4 311.1L783.1 311.2L782.8 311.4L782.4 311.5L782.1 311.6L781.8 311.8L781.4 311.9Z"/>
<path class="c" fill="#fff576" d="M628.2 237.3L650 259.1L686.4 273.6L711.8 268.2L711.8 259.7L704.5 262.3L695.5 264.8L686.4 265.5L677.3 263.2L668.2 259L659.1 253L650 246.8L639.1 239.5L628.2 230Z"/>
<path class="c" fill="#80fff2" d="M782.5 312.9L782.6 313.2L782.6 313.5L782.7 313.8L782.7 314.1L782.8 314.3L782.8 314.6L782.8 314.9L782.9 315.2L782.9 315.5L783 315.8L783 316L783.1 316.3L783.1 316.6L783.1 316.9L783.2 317.2L783.2 317.5L783.3 317.7L783.3 318L783.4 318.3L783.5 318.5L783.8 318.6L784 318.7L784.3 318.8L784.6 318.9L784.8 319L785.1 319.1L785.4 319.2L785.7 319.3L785.9 319.4L786.2 319.5L786.5 319.6L786.7 319.7L787 319.8L787.3 319.9L787.5 319.9L787.8 319.7L788 319.6L788.3 319.5L788.5 319.3L788.8 319.2L789 319L789.3 318.9L789.5 318.8L789.8 318.6L790 318.5L790.3 318.3L790.5 318.2L790.8 318L791 317.9L791.3 317.8L791.5 317.6L791.5 317.3L791.5 317.1L791.4 316.8L791.4 316.5L791.3 316.2L791.3 315.9L791.3 315.6L791.2 315.4L791.2 315.1L791.1 314.8L791.1 314.5L791.1 314.2L791 313.9L791 313.7L790.8 313.4L790.6 313.3L790.3 313.2L790.1 313L789.8 312.9L789.6 312.7L789.3 312.6L789.1 312.5L788.8 312.3L788.6 312.2L788.3 312L788.1 311.9L787.8 311.7L787.6 311.6L787.4 311.5L787.1 311.3L786.9 311.2L786.6 311.3L786.3 311.4L786 311.5L785.8 311.6L785.5 311.6L785.2 311.7L785 311.8L784.7 311.9L784.4 312L784.1 312.1L783.9 312.2L783.6 312.3L783.3 312.4L783 312.5L782.8 312.6L782.5 312.6Z"/>
<path class="c" fill="#80ff90" d="M784 295.2L795.6 293.7L804.4 287.9L807.3 279.1L798.5 275.6L784 274.8L769.4 279.1L773.8 290.8ZM749 305.4L754.8 299.5L753.4 290.8L746.1 287.9L739.7 293.7L742 303.9Z"/>
<path class="l" d="M90.3 715.6L95.4 710.5L100.5 706.7L105.6 702.8L112.1 699L118.5 695.1L123.6 691.3L127.4 686.2L132.6 682.3L139 679.7L142.8 674.6L140.3 668.2L141.5 660.5L142.8 652.8L147.9 649L153.1 645.1L158.2 641.3L163.3 634.9L167.2 628.5L172.3 623.3L177.4 619.5L182.6 615.6L186.4 610.5L187.7 604.1L191.5 599L194.1 593.8L192.8 587.4L192.8 581L187.7 575.9L182.6 572.1L174.9 570.8L164.6 573.3L158.2 570.3L164.6 569.5L170.9 566.3L174.4 565.3L180 564.4L187.7 560.5L191.5 556.7L190.7 554.5L191.6 553.3L189 543L191.6 538.7L186.5 532.7L183.7 530L182.6 527.7L174.9 522.6L169.7 517.4L167.2 509.7L165.9 502.1L163.3 496.9L159.5 489.2L156.9 484.1L153.1 480.3L146.7 476.4L139 472.6L132.6 468.7L135.1 463.6L139 458.5L144.1 453.3L147.9 448.2L153.1 443.1L156.9 440.5L164.6 436.7L168.5 432.8L174.9 430.3L182.6 429L190.3 426.4L195.4 425.1L200.5 422.6L205.6 420L208.2 415.4L204.4 412.8L200.5 411L195.4 409.7L189 408.5L182.6 408.5L176.2 406.7L169.7 404.6L164.6 402.1L159.5 404.6L154.4 407.2L150.5 411L146.7 414.9L142.8 417.9L137.7 418.7L132.6 417.4L128.7 414.4L126.9 409.7L128.7 405.9L126.2 402.1L123.6 396.9L115.9 395.6L109.5 394.4L104.4 391.3L99.2 387.9L95.9 382.8L97.9 377.7L103.1 374.6L108.2 376.9L114.6 375.1L122.3 371.3L130 367.4L135.1 362.3L140.3 358.5L147.9 355.9L156.9 352.1L162.1 346.9L168.5 341.8L174.9 337.4L182.6 336.7L190.3 337.9L196.7 341.8L199.2 345.1L194.6 349.2L190 355.6L184.4 360L181.8 362.1L176.7 365.1L179.2 367.2L186.9 370.3L187.4 372.8L183.1 374.9L189.5 377.4L185.6 379.2L174.1 379.2L173.3 381.8L181.8 381.8L189.5 380L197.2 373.6L204.9 369L213.8 364.9L222.8 361.3L231.8 360.8L242.1 359.2L249.7 362.1L251.5 367.2L257.4 364.6L261.3 366.4L269 366.9L269 371L265.1 378.7L261.8 385.1L259.2 391.5L254.9 396.7L258.2 400L277.3 400L284.8 403L292.2 406L298.2 413.4L299.7 420.9L289.3 425.4L286.3 428.4L290.7 432.8L293.7 438.8L295.2 446.3L293.7 453.7L290.7 459.7L287.8 465.7L284.8 470.1L283.3 474.6L284.8 479.1L289.3 482.1L295.2 483.6L301.2 481.3L305.7 477.6L311.6 474.6L317.6 473.1L323.6 470.1L329.6 468.7L335.5 467.2L341.5 467.2L347.5 466.4L351.9 464.2L356.4 459.7L359.4 455.2L360.9 449.3L361.6 443.3L359.4 437.3L360.1 431.3L359.4 425.4L357.9 419.4L356.4 413.4L353.4 409L350.4 404.5L347.5 400L344.3 400L340.5 394.4L335.4 387.9L330.3 381.5L325.1 377.7L320 375.9L320 375.7L317.2 375.1L313.8 370L314.6 361L320 359.5L320 359L322.6 358.5L330.3 356.4L337.9 352.6L343.1 348.2L350.8 343.6L358.5 339.2L364.9 335.9L365.6 327.7L366.2 320L366.2 318.6L371.3 312.8L377.7 307.7L384.1 303.8L387.9 298.7L394.4 298.7L399.5 294.9L404.6 289.7L411 284.1L414.9 283.3L418.7 285.9L422.6 284.6L423.8 291L429 292.3L434.1 294.9L439.2 294.9L445.6 292.8L453.3 291L461 288.5L468.7 285.1L476.4 282.1L484.1 276.9L489.2 274.4L494.4 267.9L499.5 262.8L504.6 258.5L511 253.3L517.4 247.4L522.6 242.3L529 237.2L535.4 232.1L540.5 226.9L545.6 223.1L550.8 216.7L554.6 211.5L557.2 206.4L560 203.8L560 202.3L562.6 199.7L567.7 194.6L574.1 188.2L580.5 180.5L586.9 174.1L593.3 167.7L598.5 162.6L601 158.7L602.3 152.3L603.6 144.6L604.9 136.9L603.6 126.7L604.1 119L606.2 111.3L610 103.6L615.1 97.2L621.5 92.1L622.8 85.6L620.3 75.4L615.1 66.9L615.1 60L615 60L615 37L52 37L52 724.4L74.9 717.7L74.9 724.6L82.1 722.1L85.1 719.5ZM341.8 634.4L338.5 635.4L339.2 637.4L342.6 636.4ZM317.9 655.4L317.9 664.4L321.3 662.6L323.8 657.9L327.7 654.1L332.3 650.3L332.8 646.4L329 645.6L323.8 649L320 652.8ZM269.7 693.6L267.2 690.3L264.1 691L265.9 694.4ZM245.4 699.5L244.1 697.4L240.3 700.5L242.8 702.6ZM230 702.6L231.3 705.1L235.1 705.1L236.9 702.6L233.8 701.3ZM161.5 747.4L164.1 753.8L166.7 756.9L169.2 752.6L172.3 744.9L176.2 737.2L180 729.5L183.8 721.8L185.6 714.1L187.7 706.4L190.3 698.7L192.3 691L190.3 685.9L183.8 682.6L178.7 684.6L172.3 689.7L167.2 696.2L162.1 702.6L158.2 709L154.4 716.7L151.3 723.1L150.5 730.8L153.1 735.9L156.9 741ZM446.9 453.9L436.3 455.2L428.3 459.2L420.3 464.5L412.4 469.9L404.4 475.2L396.4 479.1L391.1 484.5L391.1 486.3L399.1 487.1L407 484.5L415 483.1L423 484.5L431 481.8L438.9 480.5L446.9 479.1L454.9 477.8L462.8 475.2L470.8 473.8L478.8 473.8L480 473.6L480 479.6L483.4 476.2L488.6 475.3L485.1 479.6L481.7 484.7L483.4 489.9L486.8 495L492 498.4L497.1 501L502.3 500.1L505.7 497.6L510 493.3L512.5 488.2L516 483.9L520.2 483L522.8 479.6L518.5 476.2L516.8 471L520.2 466.7L522.8 469.3L526.2 472.7L529.7 471L533.1 472.7L538.2 473.6L543.4 472.7L548.5 474.5L553.6 472.7L557.1 469.3L560.5 467.6L562.2 472.7L565.6 474.5L566.5 469.3L569 465L573.3 463.3L572.5 467.6L574.2 472.7L577.6 474.5L581 472.7L582.7 467.6L586.2 463.3L584.5 459L587 455.6L591.3 453L593.9 453.9L591.3 457.3L588.7 462.5L589.6 467.6L593 468.5L598.2 465.9L601.6 462.5L602.4 457.3L605 453.9L608.4 452.2L611.8 450.5L610.1 447.9L607.6 443.6L606.7 438.5L608.4 433.4L611.8 428.2L615.3 423.1L616.1 416.2L617 409.4L616.1 402.5L615.3 395.7L618.7 393.1L623.8 391.4L627.3 387.1L629 380.3L634.1 375.1L636 370L638.1 370L638.6 368.7L637.9 363.6L636.7 358.5L634.7 353.3L632.2 349.5L629.6 345.6L626.4 341.8L624.5 337.9L622.6 335.4L618.7 336.7L614.2 336.7L612.9 334.1L614.9 333.5L617.4 335.4L619.4 334.1L620.6 330.3L622.6 329L624.5 327.7L623.8 325.1L620 324.5L616.2 323.2L612.9 323.8L611 326.4L610.4 330.3L611.7 332.8L611 336.7L608.5 335.4L608.5 330.3L605.9 329L601.4 329L599.5 331.5L600.1 335.4L597.6 337.9L593.1 340.5L591.2 343.7L592.4 346.9L593.1 352.1L590.5 354.6L586.7 357.2L589.2 358.5L593.7 361L593.1 366.2L591.9 370L593.9 370L593 371.7L589.6 376.8L586.2 383.7L582.7 388.8L579.3 395.7L575.9 400.8L570.8 404.2L565.6 408.5L560.5 412.8L555.3 417.1L550.2 419.7L545.1 420.5L539.9 423.1L534.8 425.7L529.7 426.5L527.9 423.1L528.8 417.9L531.4 415.4L533.9 412L531.4 411.1L525.4 412.8L521.1 415.4L519.4 419.7L520.2 424.8L517.7 428.2L514.2 431.6L510.8 435.1L507.4 438.5L504.8 442.8L500.5 443.6L495.4 445.3L490.3 447.9L485.1 450.5L480 452.2L480 451.4L478.8 451.3L468.2 452.6L457.5 455.2ZM474.8 487.1L468.2 480.5L458.9 483.1L449.6 485.8L442.9 488.4L436.3 491.1L428.3 496.4L423 501.7L425.6 508.4L431 513.7L436.3 516.3L441.6 512.4L449.6 507L457.5 501.7L465.5 500.4L469.5 497.7L473.5 493.8ZM375.2 536.3L376.5 542.9L379.1 546.9L381.8 549L384.5 548.2L384.5 542.9L387.1 540.3L389 544.2L387.1 549.6L389.8 553.5L393.8 550.9L397.7 546.9L401.7 541.6L404.4 534.9L407 528.3L408.4 521.7L409.7 515L411 508.4L409.7 501.7L407 496.4L401.7 495.1L396.4 492.4L392.4 489.8L387.1 491.1L380.5 493.8L380 494L380 495.5L374.3 497L369.9 499.3L365.4 503L362.4 507.5L363.9 511.9L368.4 514.9L371.3 519.4L372.8 523.9L373.9 528L373.5 528L373.8 529.6ZM392.2 566.8L393.8 568.2L394.8 564.2L393.8 559.6L391.6 561.5ZM381.3 568.2L381.8 571.6L384.5 572.1L385.8 569.5L383.9 566.8ZM354.6 620L359.7 616.9L364.1 613.8L364.9 610.5L359.7 611.8L354.6 614.4L350.8 616.9L351.3 620.8ZM349.7 628.5L348.7 624.6L346.2 625.9L347.2 629.7ZM641 149.7L636.9 160L634.4 163.8L636.4 169L640 174.1L641.5 180.5L640.8 188.2L638.2 198.5L635.6 206.2L633.8 211.3L635.6 217.7L638.2 222.8L640.8 221.5L643.3 217.7L645.9 212.6L649.7 208.2L654.9 209.2L661.3 210.8L666.4 211.8L669.7 215.1L670.8 221L673.3 216.4L672.8 208.7L671.5 203.6L666.4 202.3L662.6 198.5L661.3 193.3L656.2 189.5L652.3 184.4L649.7 179.2L650.3 174.1L652.8 169L656.2 162.6L658.7 156.2L662.6 151.8L669 149.7L676.7 149.2L683.1 151L688.2 154.9L693.3 158.7L698.5 163.3L702.3 163.8L703.6 161.3L700.5 156.9L695.9 151L690.8 144.6L685.6 136.9L680.5 129.2L676.7 121.5L672.8 112.6L669 103.6L665.6 93.3L663.3 85.6L663.1 79.2L665.6 71.5L666.4 66.9L666.4 60L634.4 60L634.4 66.9L633.1 77.9L629.7 86.9L630.5 92.1L636.9 97.2L641.5 104.9L642.6 111.3L640.8 121.5L641.5 131.8L640 142.1ZM805.5 232.8L805.6 232.7L805.7 232.7L809.5 230.8L809.7 230.7L813.5 228.1L818.6 225L818.7 224.9L818.8 224.8L818.8 224.8L818.9 224.7L819 224.6L819 224.5L819 224.4L819.1 224.3L819.1 224.2L819.1 224.1L819.1 220.3L819.1 220.2L819.1 220.1L819 220L819 219.9L819 219.8L818.9 219.7L818.9 219.6L818.8 219.6L818.7 219.5L818.6 219.4L818.6 219.4L818.5 219.3L818.4 219.3L818.3 219.3L818.2 219.3L818.1 219.3L818 219.3L817.9 219.3L817.8 219.3L817.7 219.3L817.6 219.4L817.5 219.4L814.5 221.3L814.4 221.4L809.8 224.6L806 227.1L805.9 227.2L802.7 229.7L802.6 229.8L802.6 229.9L802.5 229.9L802.5 230L802.4 230.1L802.4 230.2L802.4 230.3L802.3 230.4L802.3 230.5L802.3 230.6L802.4 230.7L802.4 230.8L802.4 230.9L802.5 231L802.5 231.1L802.6 231.1L802.6 231.2L802.7 231.3L802.8 231.3L804.7 232.6L804.8 232.7L804.9 232.7L805 232.7L805.1 232.8L805.1 232.8L805.2 232.8L805.3 232.8L805.4 232.8ZM616.3 238.1L616.5 235.5L615 234.9L615 238.1ZM622.1 242.6L621.4 240L618.8 239.4L619.5 242.9ZM747.5 257.8L747.6 257.8L747.7 257.8L747.8 257.8L747.9 257.7L748 257.7L750.6 256.4L750.6 256.4L753.8 254.4L754 254.4L757.1 251.9L760.8 250L764.7 248.1L764.8 248L768.6 245.5L772.3 243.6L776.1 242.4L776.2 242.3L780.1 240.4L783.9 238.5L787 237.2L790.2 235.9L790.3 235.9L790.4 235.8L790.5 235.8L790.6 235.7L790.6 235.6L790.7 235.6L790.8 235.5L790.8 235.4L790.8 235.3L790.9 235.2L790.9 235.1L790.9 235L790.9 234.9L790.8 234.8L790.8 234.7L790.2 232.8L790.1 232.7L790.1 232.6L790 232.5L790 232.4L789.9 232.3L789.8 232.3L789.8 232.2L789.7 232.2L789.6 232.1L789.5 232.1L789.4 232.1L789.3 232.1L789.2 232.1L789.1 232.1L784.6 232.7L784.5 232.7L784.4 232.8L776.7 235.3L773.2 236.5L770.9 236L770.8 235.9L770.7 235.9L770.6 235.9L770.5 235.9L770.4 236L767.8 236.6L767.7 236.6L767.7 236.7L767.6 236.7L767.5 236.7L767.4 236.8L767.4 236.9L764.3 240L761.2 241.8L761.1 241.9L753.4 247L753.3 247L753.3 247.1L749.5 250.9L745.6 254.1L745.6 254.2L745.5 254.2L745.4 254.3L745.4 254.4L745.4 254.5L745.3 254.6L745.3 254.7L745.3 254.8L745.3 254.9L745.3 255L745.3 255.1L745.3 255.2L745.4 255.3L745.4 255.3L745.5 255.4L746.7 257.3L746.8 257.4L746.9 257.5L746.9 257.6L747 257.6L747.1 257.7L747.2 257.7L747.3 257.7L747.4 257.8L747.4 257.8ZM713.9 273.8L714 273.8L714.1 273.8L714.2 273.8L716.2 273.8L716.3 273.8L716.3 273.8L716.4 273.8L716.5 273.7L716.6 273.7L716.7 273.7L716.8 273.6L720 271L723.2 268.5L723.3 268.4L726.5 265.2L728.9 262.7L732.6 260.9L736.3 259.7L736.4 259.6L736.5 259.6L736.6 259.5L738.5 258.3L738.6 258.2L738.7 258.1L738.7 258.1L738.8 258L738.8 257.9L738.9 257.8L738.9 257.7L738.9 257.6L738.9 257.5L738.9 257.4L738.9 257.3L738.9 257.2L738.9 257.1L738.9 257.1L738.8 257L738.8 256.9L738.7 256.8L738.7 256.7L738.6 256.7L738.5 256.6L738.4 256.6L738.3 256.5L738.2 256.5L738.1 256.5L738 256.4L737.9 256.4L733.7 256.4L730.6 255.2L730.5 255.2L730.4 255.2L730.3 255.2L730.2 255.2L730.1 255.2L730 255.2L729.9 255.2L729.8 255.2L729.7 255.3L729.7 255.4L727.1 257.3L727 257.4L723.8 260.6L720 264.4L716.2 267.6L713 270.1L712.9 270.2L712.8 270.3L712.8 270.3L712.7 270.4L712.7 270.5L712.6 270.6L712.6 270.7L712.6 270.8L712.6 270.9L712.6 271L712.6 271.1L712.6 271.2L713.3 273.1L713.3 273.2L713.4 273.3L713.4 273.4L713.5 273.5L713.5 273.5L713.6 273.6L713.7 273.7L713.8 273.7L713.9 273.7ZM739.9 271.5L739.9 272.8L742.4 273.1L745.6 271.5L743.7 270.3ZM640.6 236.2L636.2 234.2L632.9 235.5L629.7 238.1L628.5 241.9L630.4 245.8L631.7 250.9L631 256L629.1 261.2L627.8 266.3L625.3 270.1L624.2 272.2L623.8 272.6L623.5 273.7L623.3 274L623.3 274.2L622.6 276.4L622.8 277.1L622.7 277.8L624 281.7L623.3 282.5L621.3 284.1L617.4 285.4L612.3 284.1L607.2 282.2L602.1 281.5L600.1 284.1L603.3 287.3L604 289.2L600.8 291.8L596.9 294.4L592.4 296.3L589.9 298.8L589.2 303.3L591.2 307.2L594.4 311L595 314.9L593.7 318.7L593.1 321.3L595 323.8L597.6 324.5L600.8 322.6L604 320L607.2 317.4L609.7 316.2L613.6 316.8L616.8 316.8L619.4 314.9L618.1 313.6L614.9 312.9L611 310.4L607.2 308.5L603.3 307.8L600.8 305.9L600.1 303.3L601.4 300.8L604 299.2L607.2 299.7L609.7 301.4L613.6 304L616.8 304L621.3 301.4L624.5 299.2L625.3 299L630.4 298.3L631.2 298.4L635.4 299.5L640.5 302.1L645.6 304.6L650.8 306.5L655.9 308.5L661 311L664.9 312.9L667.4 309.7L669.4 305.3L672.6 300.8L675.9 296.9L679.1 294.5L684.2 291.9L689.4 290.6L694.5 291.3L698.3 290.6L699 289.6L700.3 289.1L700.9 289.4L704.7 288.7L709.9 286.8L713.7 284.9L717.6 282.9L720.6 281.8L720.1 281.7L721.4 281L716.3 280.4L712.4 279.1L710.5 276.5L708.6 274L706.9 272.7L706.5 271.5L708.5 267.7L709.6 266L709.9 265.6L712.4 262.4L711.9 261.6L712.3 260.6L711.4 260.8L711.2 260.5L710 261.1L709.1 261.3L702.7 263.8L695 266.4L693.7 266.4L693.7 266.7L691.9 266.9L686.8 265.6L681.7 264.4L676.5 263.1L671.4 260.5L666.3 257.3L661.2 253.5L656 249.6L650.9 245.8L645.8 240.6ZM560.1 394.8L557.9 394L555.3 397.4L554 401.7L555 404.2L557.9 404.2L560.5 401.7L558.8 399.1ZM359.4 474.6L357.9 473.9L355.7 477.6L353.4 483.6L354.9 486.6L356.4 483.6L358.7 479.1ZM304.2 501.5L302.7 498.5L296.7 498.5L290.7 500L286.3 501.5L289.3 505.2L295.2 506L301.2 504.5ZM357.9 508.2L356.4 506.7L353.4 509.7L349 512.7L344.5 515.7L341.5 518.7L343 520.6L346 518.7L350.4 515.7L354.9 511.9Z"/>
<text class="n" transform="translate(202.4,381.4) rotate(-5)" y="3.96">23</text>
<text class="n" transform="translate(225.7,425.1) rotate(-80)" y="3.96">24</text>
<text class="n" transform="translate(228.6,444) rotate(-10)" y="3.96">25</text>
<text class="n" transform="translate(243.2,447) rotate(5)" y="3.96">26</text>
<text class="n" transform="translate(265.9,481.3) rotate(30)" y="3.96">25</text>
<text class="n" transform="translate(284,500.9) rotate(0)" y="3.96">28</text>
<text class="n" transform="translate(304.4,492.1) rotate(-20)" y="3.96">26</text>
<text class="n" transform="translate(262.1,540.2) rotate(-10)" y="3.96">29</text>
<text class="n" transform="translate(316,524.2) rotate(70)" y="3.96">30</text>
<text class="n" transform="translate(241.7,589.1) rotate(-30)" y="3.96">30</text>
<text class="n" transform="translate(217,632.8) rotate(60)" y="3.96">30</text>
<text class="n" transform="translate(181.4,662) rotate(-60)" y="3.96">29</text>
<text class="n" transform="translate(286.9,675.1) rotate(45)" y="3.96">30</text>
<text class="n" transform="translate(123.7,745) rotate(-50)" y="3.96">29</text>
<text class="n" transform="translate(339.3,482.4) rotate(-10)" y="3.96">27</text>
<text class="n" transform="translate(361.2,529.1) rotate(10)" y="3.96">29</text>
<text class="n" transform="translate(508.3,508.1) rotate(10)" y="3.96">29</text>
<text class="n" transform="translate(470.5,551) rotate(10)" y="3.96">29</text>
<text class="n" transform="translate(415.1,584.4) rotate(60)" y="3.96">30</text>
<text class="n" transform="translate(470.5,641.2) rotate(30)" y="3.96">30</text>
<text class="n" transform="translate(370,654.4) rotate(-45)" y="3.96">30</text>
<text class="n" transform="translate(468.9,297.3) rotate(-30)" y="3.96">20</text>
<text class="n" transform="translate(480.5,306.6) rotate(-60)" y="3.96">21</text>
<text class="n" transform="translate(446.4,335.2) rotate(-80)" y="3.96">22</text>
<text class="n" transform="translate(539.7,337.2) rotate(0)" y="3.96">22</text>
<text class="n" transform="translate(550.5,340.1) rotate(0)" y="3.96">23</text>
<text class="n" transform="translate(424.3,370.1) rotate(5)" y="3.96">23</text>
<text class="n" transform="translate(511.7,369.3) rotate(-5)" y="3.96">24</text>
<text class="n" transform="translate(396,405.7) rotate(30)" y="3.96">24</text>
<text class="n" transform="translate(474.7,405.7) rotate(0)" y="3.96">25</text>
<text class="n" transform="translate(501.8,419.7) rotate(70)" y="3.96">26</text>
<text class="n" transform="translate(436.8,434.8) rotate(-60)" y="3.96">26</text>
<text class="n" transform="translate(593.2,217.8) rotate(-60)" y="3.96">19</text>
<text class="n" transform="translate(601.9,229.5) rotate(80)" y="3.96">20</text>
<text class="n" transform="translate(601.9,248.4) rotate(-5)" y="3.96">21</text>
<text class="n" transform="translate(593.2,280.5) rotate(50)" y="3.96">22</text>
<text class="n" transform="translate(712.6,146) rotate(-80)" y="3.96">13</text>
<text class="n" transform="translate(753.4,185.3) rotate(80)" y="3.96">14</text>
<text class="n" transform="translate(724.2,217.3) rotate(75)" y="3.96">15</text>
<text class="n" transform="translate(786.9,208.6) rotate(-60)" y="3.96">13</text>
<text class="n" transform="translate(789.8,218.8) rotate(-60)" y="3.96">12</text>
<text class="n" transform="translate(781,229) rotate(-40)" y="3.96">11</text>
<text class="n" transform="translate(737.3,339.1) rotate(-60)" y="3.96">21</text>
<text class="n" transform="translate(733,356) rotate(-45)" y="3.96">23</text>
<text class="n" transform="translate(640.3,442.6) rotate(-45)" y="3.96">27</text>
<text class="n" transform="translate(609.1,492.1) rotate(-45)" y="3.96">28</text>
<text class="n" transform="translate(644.7,477.5) rotate(-85)" y="3.96">28</text>
<text class="n" transform="translate(679.1,540.2) rotate(10)" y="3.96">28</text>
<text class="n" transform="translate(754.8,438.2) rotate(45)" y="3.96">26</text>
<text class="n" transform="translate(750.5,428) rotate(45)" y="3.96">24</text>
<text class="n" transform="translate(788.3,449.9) rotate(-70)" y="3.96">27</text>
<text class="n" transform="translate(808.7,532.9) rotate(0)" y="3.96">27</text>
<text class="n" transform="translate(748,286.1) rotate(-30)" y="3.96">14</text>
<text class="n" transform="translate(764.1,310.6) rotate(-50)" y="3.96">20</text>
<text class="n" transform="translate(766.5,314.5) rotate(-50)" y="3.96">22</text>
<text class="n" transform="translate(792.8,333.6) rotate(-60)" y="3.96">19</text>
<text class="n" transform="translate(797,325) rotate(-60)" y="3.96">18</text>
<text class="n" transform="translate(796.3,317.6) rotate(-60)" y="3.96">16</text>
<text class="n" transform="translate(664.5,581.9) rotate(-60)" y="3.96">29</text>
<text class="n" transform="translate(766.5,629.1) rotate(0)" y="3.96">29</text>
<text class="n" transform="translate(787.5,581) rotate(50)" y="3.96">28</text>
<text class="n" transform="translate(725.7,680.3) rotate(-30)" y="3.96">30</text>
<text class="n" transform="translate(654.3,737.2) rotate(-70)" y="3.96">30</text>
<text class="n" transform="translate(598.1,750) rotate(-30)" y="3.96">30</text>
<text class="n" transform="translate(768.8,767.5) rotate(0)" y="3.96">31</text>
<text class="n" transform="translate(813,735) rotate(80)" y="3.96">30</text>
<text class="n" transform="translate(581.5,590.6) rotate(-70)" y="3.96">29</text>
</g>
<rect x="82" y="67" width="733" height="733" fill="none" stroke="#222" stroke-width="1.2"/>
<path class="t" d="M149 67V47M149 800V820M371 67V47M371 800V820M593 67V47M593 800V820M815 67V47M815 800V820M82 800H62M815 800H835M82 578H62M815 578H835M82 356H62M815 356H835M82 134H62M815 134H835"/>
<text x="149" y="855" font-size="25" text-anchor="middle">120E</text>
<text x="371" y="855" font-size="25" text-anchor="middle">130E</text>
<text x="593" y="855" font-size="25" text-anchor="middle">140E</text>
<text x="815" y="855" font-size="25" text-anchor="middle">150E</text>
<text x="46" y="809" font-size="25" text-anchor="end">20N</text>
<text x="46" y="587" font-size="25" text-anchor="end">30N</text>
<text x="46" y="365" font-size="25" text-anchor="end">40N</text>
<text x="46" y="143" font-size="25" text-anchor="end">50N</text>
<rect x="872.5" y="775.15" width="28.2" height="18.45" fill="#800080"/>
<rect x="872.5" y="757.00" width="28.2" height="18.45" fill="#701090"/>
<rect x="872.5" y="738.85" width="28.2" height="18.45" fill="#5f21a1"/>
<rect x="872.5" y="720.70" width="28.2" height="18.45" fill="#4f31b1"/>
<rect x="872.5" y="702.55" width="28.2" height="18.45" fill="#3e42c1"/>
<rect x="872.5" y="684.40" width="28.2" height="18.45" fill="#2e52d1"/>
<rect x="872.5" y="666.25" width="28.2" height="18.45" fill="#1e62e2"/>
<rect x="872.5" y="648.10" width="28.2" height="18.45" fill="#0d73f2"/>
<rect x="872.5" y="629.95" width="28.2" height="18.45" fill="#0383ff"/>
<rect x="872.5" y="611.80" width="28.2" height="18.45" fill="#1494ff"/>
<rect x="872.5" y="593.65" width="28.2" height="18.45" fill="#24a4ff"/>
<rect x="872.5" y="575.50" width="28.2" height="18.45" fill="#35b4ff"/>
<rect x="872.5" y="557.35" width="28.2" height="18.45" fill="#45c4ff"/>
<rect x="872.5" y="539.20" width="28.2" height="18.45" fill="#55d5ff"/>
<rect x="872.5" y="521.05" width="28.2" height="18.45" fill="#66e5ff"/>
<rect x="872.5" y="502.90" width="28.2" height="18.45" fill="#76f5ff"/>
<rect x="872.5" y="484.75" width="28.2" height="18.45" fill="#80fff2"/>
<rect x="872.5" y="466.60" width="28.2" height="18.45" fill="#80ffd1"/>
<rect x="872.5" y="448.45" width="28.2" height="18.45" fill="#80ffb1"/>
<rect x="872.5" y="430.30" width="28.2" height="18.45" fill="#80ff90"/>
<rect x="872.5" y="412.15" width="28.2" height="18.45" fill="#90ff80"/>
<rect x="872.5" y="394.00" width="28.2" height="18.45" fill="#b1ff80"/>
<rect x="872.5" y="375.85" width="28.2" height="18.45" fill="#d1ff80"/>
<rect x="872.5" y="357.70" width="28.2" height="18.45" fill="#f2ff80"/>
<rect x="872.5" y="339.55" width="28.2" height="18.45" fill="#fff576"/>
<rect x="872.5" y="321.40" width="28.2" height="18.45" fill="#ffe566"/>
<rect x="872.5" y="303.25" width="28.2" height="18.45" fill="#ffd555"/>
<rect x="872.5" y="285.10" width="28.2" height="18.45" fill="#ffc445"/>
<rect x="872.5" y="266.95" width="28.2" height="18.45" fill="#ffb435"/>
<rect x="872.5" y="248.80" width="28.2" height="18.45" fill="#ffa424"/>
<rect x="872.5" y="230.65" width="28.2" height="18.45" fill="#ff9414"/>
<rect x="872.5" y="212.50" width="28.2" height="18.45" fill="#ff8303"/>
<rect x="872.5" y="194.35" width="28.2" height="18.45" fill="#f27300"/>
<rect x="872.5" y="176.20" width="28.2" height="18.45" fill="#e26200"/>
<rect x="872.5" y="158.05" width="28.2" height="18.45" fill="#d15200"/>
<rect x="872.5" y="139.90" width="28.2" height="18.45" fill="#c14200"/>
<rect x="872.5" y="121.75" width="28.2" height="18.45" fill="#b13100"/>
<rect x="872.5" y="103.60" width="28.2" height="18.45" fill="#a12100"/>
<rect x="872.5" y="85.45" width="28.2" height="18.45" fill="#901000"/>
<rect x="872.5" y="67.30" width="28.2" height="18.45" fill="#800000"/>
<path d="M872.5 85.45H900.7M872.5 103.60H900.7M872.5 121.75H900.7M872.5 139.90H900.7M872.5 158.05H900.7M872.5 176.20H900.7M872.5 194.35H900.7M872.5 212.50H900.7M872.5 230.65H900.7M872.5 248.80H900.7M872.5 266.95H900.7M872.5 285.10H900.7M872.5 303.25H900.7M872.5 321.40H900.7M872.5 339.55H900.7M872.5 357.70H900.7M872.5 375.85H900.7M872.5 394.00H900.7M872.5 412.15H900.7M872.5 430.30H900.7M872.5 448.45H900.7M872.5 466.60H900.7M872.5 484.75H900.7M872.5 502.90H900.7M872.5 521.05H900.7M872.5 539.20H900.7M872.5 557.35H900.7M872.5 575.50H900.7M872.5 593.65H900.7M872.5 611.80H900.7M872.5 629.95H900.7M872.5 648.10H900.7M872.5 666.25H900.7M872.5 684.40H900.7M872.5 702.55H900.7M872.5 720.70H900.7M872.5 738.85H900.7M872.5 757.00H900.7M872.5 775.15H900.7" stroke="#000" stroke-width="0.7" fill="none" opacity="0.85"/>
<rect x="872.5" y="67.3" width="28.2" height="726.00" fill="none" stroke="#555" stroke-width="0.8"/>
<text x="940" y="729.7" font-size="25" text-anchor="end">0</text>
<text x="940" y="548.2" font-size="25" text-anchor="end">10</text>
<text x="940" y="366.7" font-size="25" text-anchor="end">20</text>
<text x="940" y="185.2" font-size="25" text-anchor="end">30</text>
</svg>
</body>
</html>
